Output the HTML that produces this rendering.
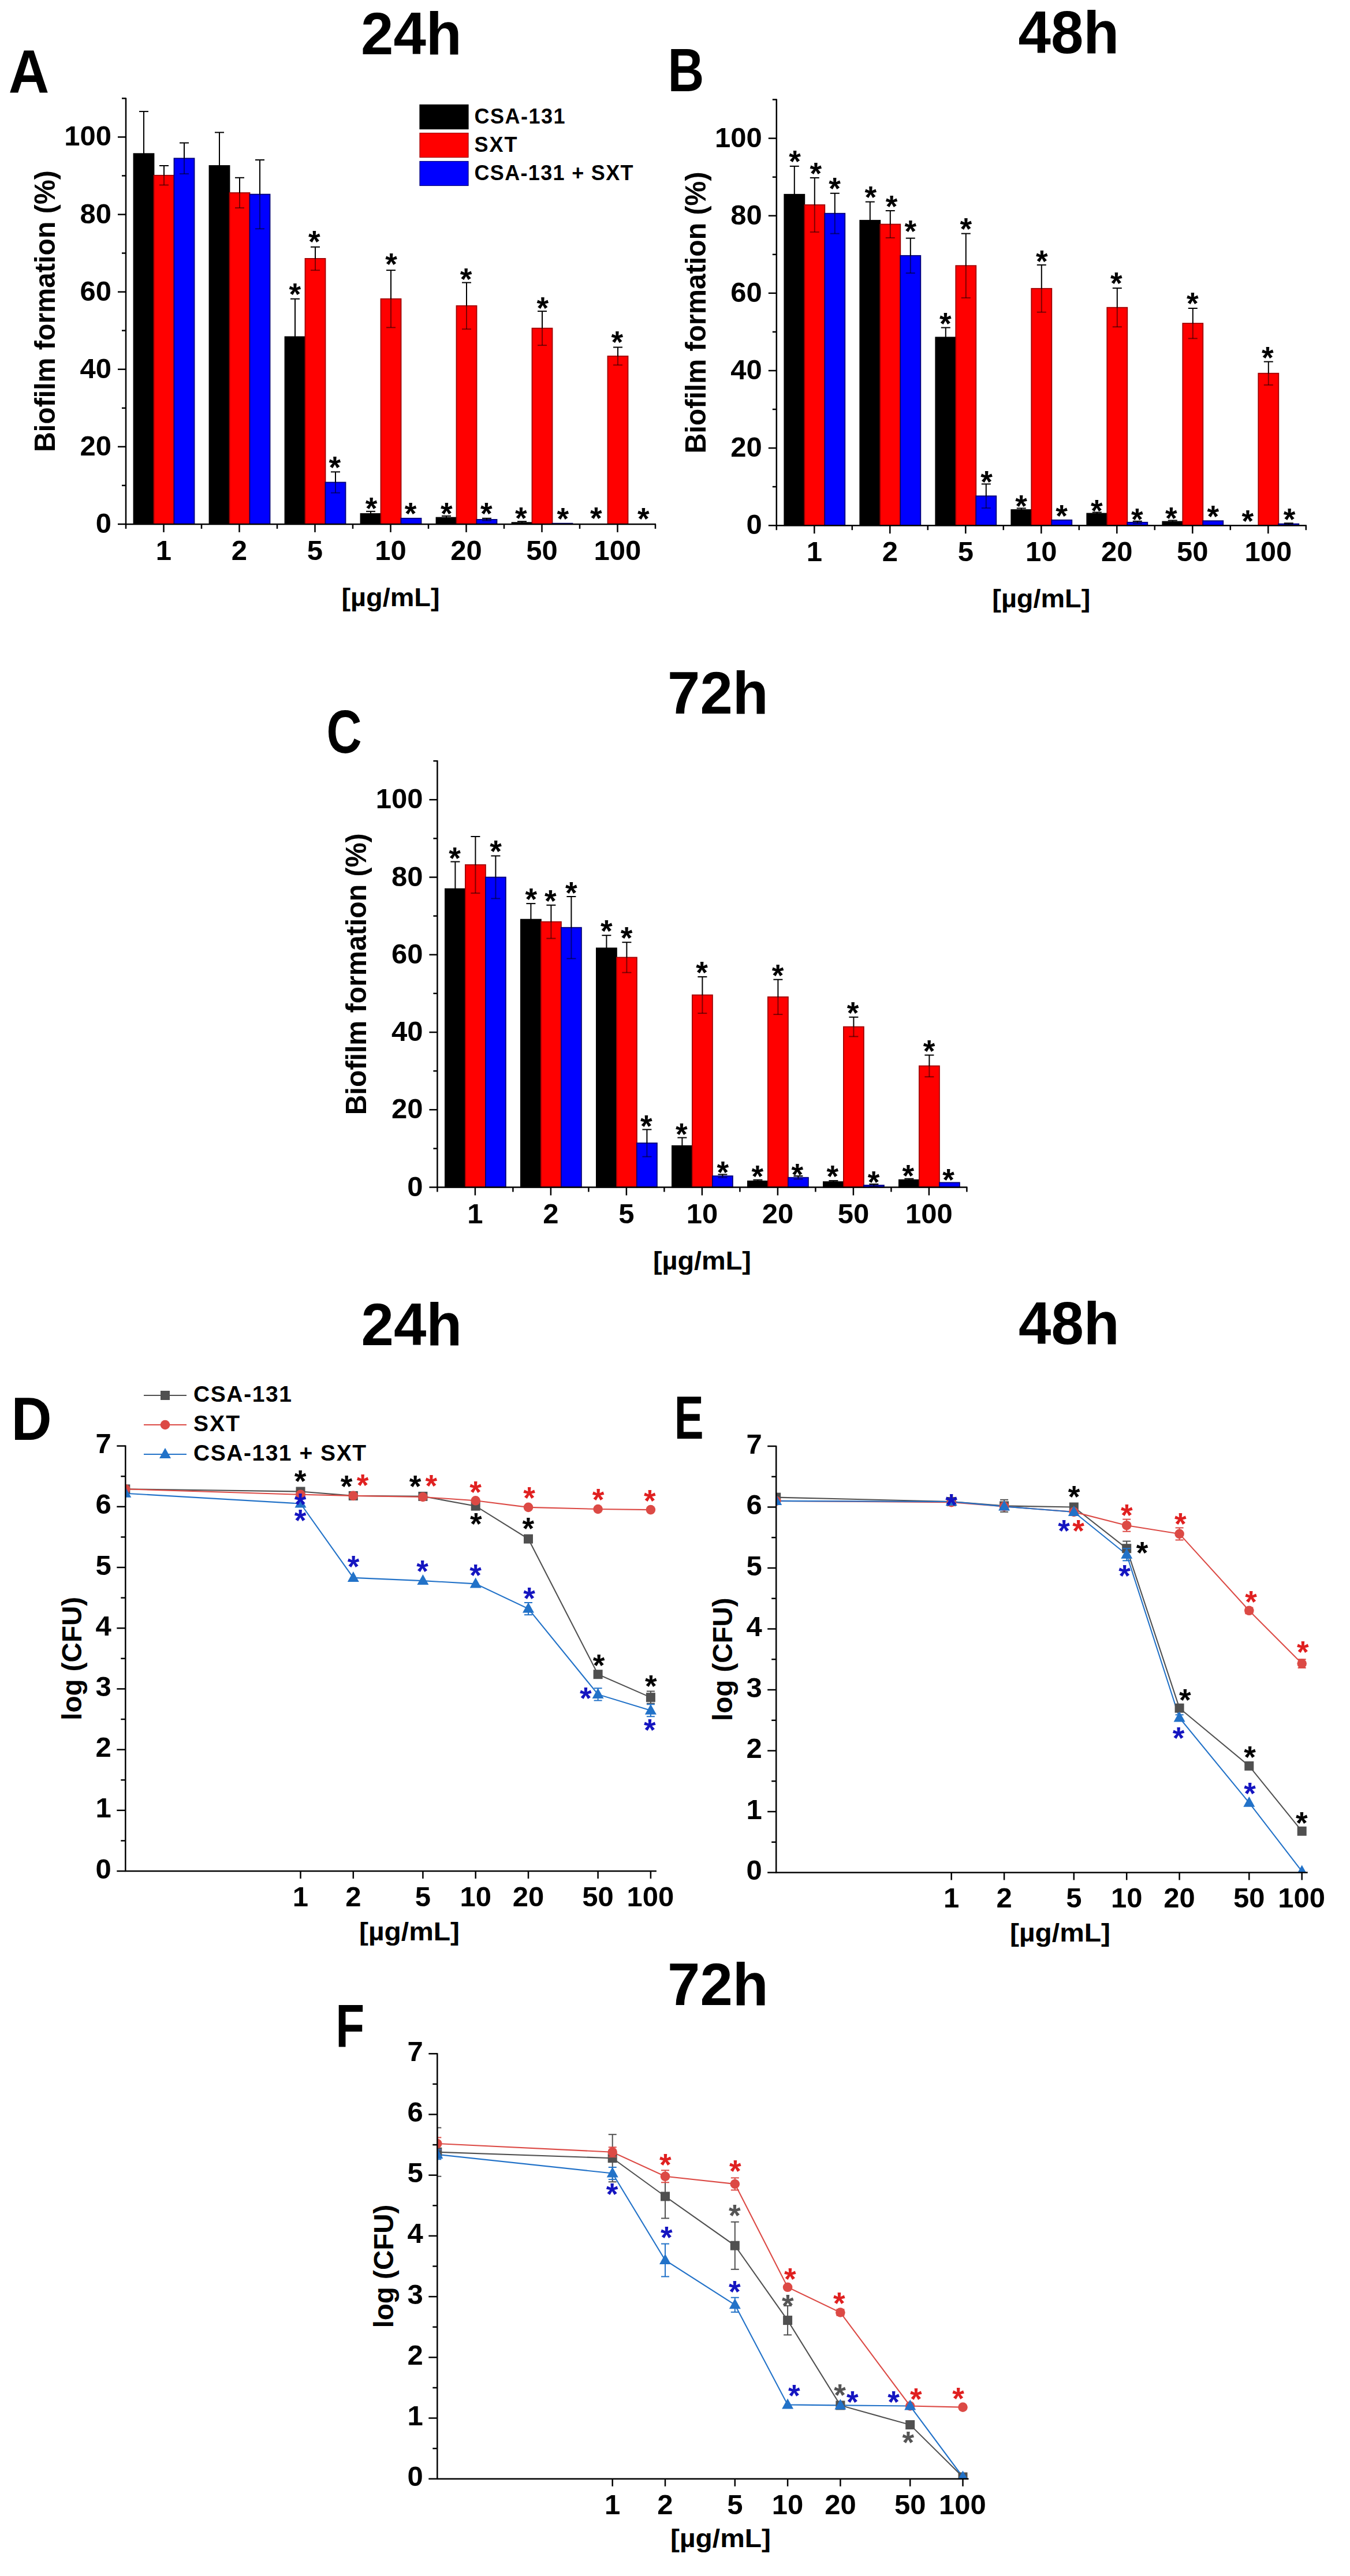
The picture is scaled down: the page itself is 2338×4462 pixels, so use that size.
<!DOCTYPE html>
<html><head><meta charset="utf-8"><title>Figure</title>
<style>html,body{margin:0;padding:0;background:#fff}svg{display:block}svg text{font-family:"Liberation Sans",Arial,sans-serif;font-weight:bold}</style>
</head><body>
<svg width="2338" height="4462" viewBox="0 0 2338 4462">
<rect width="2338" height="4462" fill="#fff"/>
<rect x="231.5" y="266.2" width="35.0" height="641.7" fill="#000000" stroke="#000000" stroke-width="1.8"/>
<line x1="249.0" y1="193.1" x2="249.0" y2="266.2" stroke="#000" stroke-width="2" />
<line x1="241.0" y1="193.1" x2="257.0" y2="193.1" stroke="#000" stroke-width="2" />
<rect x="266.5" y="303.8" width="35.0" height="604.1" fill="#ff0000" stroke="#a00000" stroke-width="1.8"/>
<line x1="284.0" y1="287.0" x2="284.0" y2="303.8" stroke="#000" stroke-width="2" />
<line x1="276.0" y1="287.0" x2="292.0" y2="287.0" stroke="#000" stroke-width="2" />
<line x1="284.0" y1="303.8" x2="284.0" y2="320.5" stroke="#000" stroke-width="2" stroke-opacity="0.5"/>
<line x1="276.0" y1="320.5" x2="292.0" y2="320.5" stroke="#000" stroke-width="2" stroke-opacity="0.5"/>
<rect x="301.5" y="274.3" width="35.0" height="633.6" fill="#0000ff" stroke="#000078" stroke-width="1.8"/>
<line x1="319.0" y1="247.5" x2="319.0" y2="274.3" stroke="#000" stroke-width="2" />
<line x1="311.0" y1="247.5" x2="327.0" y2="247.5" stroke="#000" stroke-width="2" />
<line x1="319.0" y1="274.3" x2="319.0" y2="301.1" stroke="#000" stroke-width="2" stroke-opacity="0.5"/>
<line x1="311.0" y1="301.1" x2="327.0" y2="301.1" stroke="#000" stroke-width="2" stroke-opacity="0.5"/>
<rect x="362.5" y="287.0" width="35.0" height="620.9" fill="#000000" stroke="#000000" stroke-width="1.8"/>
<line x1="380.0" y1="229.4" x2="380.0" y2="287.0" stroke="#000" stroke-width="2" />
<line x1="372.0" y1="229.4" x2="388.0" y2="229.4" stroke="#000" stroke-width="2" />
<rect x="397.5" y="334.0" width="35.0" height="573.9" fill="#ff0000" stroke="#a00000" stroke-width="1.8"/>
<line x1="415.0" y1="307.8" x2="415.0" y2="334.0" stroke="#000" stroke-width="2" />
<line x1="407.0" y1="307.8" x2="423.0" y2="307.8" stroke="#000" stroke-width="2" />
<line x1="415.0" y1="334.0" x2="415.0" y2="360.1" stroke="#000" stroke-width="2" stroke-opacity="0.5"/>
<line x1="407.0" y1="360.1" x2="423.0" y2="360.1" stroke="#000" stroke-width="2" stroke-opacity="0.5"/>
<rect x="432.5" y="336.6" width="35.0" height="571.3" fill="#0000ff" stroke="#000078" stroke-width="1.8"/>
<line x1="450.0" y1="277.0" x2="450.0" y2="336.6" stroke="#000" stroke-width="2" />
<line x1="442.0" y1="277.0" x2="458.0" y2="277.0" stroke="#000" stroke-width="2" />
<line x1="450.0" y1="336.6" x2="450.0" y2="396.3" stroke="#000" stroke-width="2" stroke-opacity="0.5"/>
<line x1="442.0" y1="396.3" x2="458.0" y2="396.3" stroke="#000" stroke-width="2" stroke-opacity="0.5"/>
<rect x="493.5" y="583.4" width="35.0" height="324.5" fill="#000000" stroke="#000000" stroke-width="1.8"/>
<line x1="511.0" y1="517.7" x2="511.0" y2="583.4" stroke="#000" stroke-width="2" />
<line x1="503.0" y1="517.7" x2="519.0" y2="517.7" stroke="#000" stroke-width="2" />
<rect x="528.5" y="447.9" width="35.0" height="460.0" fill="#ff0000" stroke="#a00000" stroke-width="1.8"/>
<line x1="546.0" y1="427.8" x2="546.0" y2="447.9" stroke="#000" stroke-width="2" />
<line x1="538.0" y1="427.8" x2="554.0" y2="427.8" stroke="#000" stroke-width="2" />
<line x1="546.0" y1="447.9" x2="546.0" y2="468.1" stroke="#000" stroke-width="2" stroke-opacity="0.5"/>
<line x1="538.0" y1="468.1" x2="554.0" y2="468.1" stroke="#000" stroke-width="2" stroke-opacity="0.5"/>
<rect x="563.5" y="835.5" width="35.0" height="72.4" fill="#0000ff" stroke="#000078" stroke-width="1.8"/>
<line x1="581.0" y1="817.4" x2="581.0" y2="835.5" stroke="#000" stroke-width="2" />
<line x1="573.0" y1="817.4" x2="589.0" y2="817.4" stroke="#000" stroke-width="2" />
<line x1="581.0" y1="835.5" x2="581.0" y2="853.6" stroke="#000" stroke-width="2" stroke-opacity="0.5"/>
<line x1="573.0" y1="853.6" x2="589.0" y2="853.6" stroke="#000" stroke-width="2" stroke-opacity="0.5"/>
<rect x="624.5" y="889.8" width="35.0" height="18.1" fill="#000000" stroke="#000000" stroke-width="1.8"/>
<line x1="642.0" y1="885.8" x2="642.0" y2="889.8" stroke="#000" stroke-width="2" />
<line x1="634.0" y1="885.8" x2="650.0" y2="885.8" stroke="#000" stroke-width="2" />
<rect x="659.5" y="517.7" width="35.0" height="390.2" fill="#ff0000" stroke="#a00000" stroke-width="1.8"/>
<line x1="677.0" y1="468.1" x2="677.0" y2="517.7" stroke="#000" stroke-width="2" />
<line x1="669.0" y1="468.1" x2="685.0" y2="468.1" stroke="#000" stroke-width="2" />
<line x1="677.0" y1="517.7" x2="677.0" y2="567.3" stroke="#000" stroke-width="2" stroke-opacity="0.5"/>
<line x1="669.0" y1="567.3" x2="685.0" y2="567.3" stroke="#000" stroke-width="2" stroke-opacity="0.5"/>
<rect x="694.5" y="897.8" width="35.0" height="10.1" fill="#0000ff" stroke="#000078" stroke-width="1.8"/>
<rect x="755.5" y="896.5" width="35.0" height="11.4" fill="#000000" stroke="#000000" stroke-width="1.8"/>
<line x1="773.0" y1="893.8" x2="773.0" y2="896.5" stroke="#000" stroke-width="2" />
<line x1="765.0" y1="893.8" x2="781.0" y2="893.8" stroke="#000" stroke-width="2" />
<rect x="790.5" y="529.7" width="35.0" height="378.2" fill="#ff0000" stroke="#a00000" stroke-width="1.8"/>
<line x1="808.0" y1="489.5" x2="808.0" y2="529.7" stroke="#000" stroke-width="2" />
<line x1="800.0" y1="489.5" x2="816.0" y2="489.5" stroke="#000" stroke-width="2" />
<line x1="808.0" y1="529.7" x2="808.0" y2="570.0" stroke="#000" stroke-width="2" stroke-opacity="0.5"/>
<line x1="800.0" y1="570.0" x2="816.0" y2="570.0" stroke="#000" stroke-width="2" stroke-opacity="0.5"/>
<rect x="825.5" y="899.9" width="35.0" height="8.0" fill="#0000ff" stroke="#000078" stroke-width="1.8"/>
<line x1="843.0" y1="897.8" x2="843.0" y2="899.9" stroke="#000" stroke-width="2" />
<line x1="835.0" y1="897.8" x2="851.0" y2="897.8" stroke="#000" stroke-width="2" />
<line x1="843.0" y1="899.9" x2="843.0" y2="901.9" stroke="#000" stroke-width="2" stroke-opacity="0.5"/>
<line x1="835.0" y1="901.9" x2="851.0" y2="901.9" stroke="#000" stroke-width="2" stroke-opacity="0.5"/>
<rect x="886.5" y="905.2" width="35.0" height="2.7" fill="#000000" stroke="#000000" stroke-width="1.8"/>
<line x1="904.0" y1="903.2" x2="904.0" y2="905.2" stroke="#000" stroke-width="2" />
<line x1="896.0" y1="903.2" x2="912.0" y2="903.2" stroke="#000" stroke-width="2" />
<rect x="921.5" y="568.6" width="35.0" height="339.3" fill="#ff0000" stroke="#a00000" stroke-width="1.8"/>
<line x1="939.0" y1="539.1" x2="939.0" y2="568.6" stroke="#000" stroke-width="2" />
<line x1="931.0" y1="539.1" x2="947.0" y2="539.1" stroke="#000" stroke-width="2" />
<line x1="939.0" y1="568.6" x2="939.0" y2="598.1" stroke="#000" stroke-width="2" stroke-opacity="0.5"/>
<line x1="931.0" y1="598.1" x2="947.0" y2="598.1" stroke="#000" stroke-width="2" stroke-opacity="0.5"/>
<rect x="956.5" y="906.6" width="35.0" height="1.3" fill="#0000ff" stroke="#000078" stroke-width="1.8"/>
<rect x="1052.5" y="616.9" width="35.0" height="291.0" fill="#ff0000" stroke="#a00000" stroke-width="1.8"/>
<line x1="1070.0" y1="601.5" x2="1070.0" y2="616.9" stroke="#000" stroke-width="2" />
<line x1="1062.0" y1="601.5" x2="1078.0" y2="601.5" stroke="#000" stroke-width="2" />
<line x1="1070.0" y1="616.9" x2="1070.0" y2="632.3" stroke="#000" stroke-width="2" stroke-opacity="0.5"/>
<line x1="1062.0" y1="632.3" x2="1078.0" y2="632.3" stroke="#000" stroke-width="2" stroke-opacity="0.5"/>
<line x1="218.0" y1="169.4" x2="218.0" y2="908.9" stroke="#000" stroke-width="2.5" />
<line x1="217.0" y1="907.9" x2="1136.0" y2="907.9" stroke="#000" stroke-width="2.5" />
<line x1="204.0" y1="907.9" x2="218.0" y2="907.9" stroke="#000" stroke-width="2.5" />
<text x="193.0" y="922.9" font-size="49" text-anchor="end" fill="#000" >0</text>
<line x1="211.0" y1="840.9" x2="218.0" y2="840.9" stroke="#000" stroke-width="2.5" />
<line x1="204.0" y1="773.8" x2="218.0" y2="773.8" stroke="#000" stroke-width="2.5" />
<text x="193.0" y="788.8" font-size="49" text-anchor="end" fill="#000" >20</text>
<line x1="211.0" y1="706.8" x2="218.0" y2="706.8" stroke="#000" stroke-width="2.5" />
<line x1="204.0" y1="639.7" x2="218.0" y2="639.7" stroke="#000" stroke-width="2.5" />
<text x="193.0" y="654.7" font-size="49" text-anchor="end" fill="#000" >40</text>
<line x1="211.0" y1="572.6" x2="218.0" y2="572.6" stroke="#000" stroke-width="2.5" />
<line x1="204.0" y1="505.6" x2="218.0" y2="505.6" stroke="#000" stroke-width="2.5" />
<text x="193.0" y="520.6" font-size="49" text-anchor="end" fill="#000" >60</text>
<line x1="211.0" y1="438.5" x2="218.0" y2="438.5" stroke="#000" stroke-width="2.5" />
<line x1="204.0" y1="371.5" x2="218.0" y2="371.5" stroke="#000" stroke-width="2.5" />
<text x="193.0" y="386.5" font-size="49" text-anchor="end" fill="#000" >80</text>
<line x1="211.0" y1="304.4" x2="218.0" y2="304.4" stroke="#000" stroke-width="2.5" />
<line x1="204.0" y1="237.4" x2="218.0" y2="237.4" stroke="#000" stroke-width="2.5" />
<text x="193.0" y="252.4" font-size="49" text-anchor="end" fill="#000" >100</text>
<line x1="211.0" y1="170.4" x2="218.0" y2="170.4" stroke="#000" stroke-width="2.5" />
<line x1="283.5" y1="907.9" x2="283.5" y2="921.9" stroke="#000" stroke-width="2.5" />
<text x="283.5" y="969.9" font-size="49" text-anchor="middle" fill="#000" >1</text>
<line x1="414.5" y1="907.9" x2="414.5" y2="921.9" stroke="#000" stroke-width="2.5" />
<text x="414.5" y="969.9" font-size="49" text-anchor="middle" fill="#000" >2</text>
<line x1="545.5" y1="907.9" x2="545.5" y2="921.9" stroke="#000" stroke-width="2.5" />
<text x="545.5" y="969.9" font-size="49" text-anchor="middle" fill="#000" >5</text>
<line x1="676.5" y1="907.9" x2="676.5" y2="921.9" stroke="#000" stroke-width="2.5" />
<text x="676.5" y="969.9" font-size="49" text-anchor="middle" fill="#000" >10</text>
<line x1="807.5" y1="907.9" x2="807.5" y2="921.9" stroke="#000" stroke-width="2.5" />
<text x="807.5" y="969.9" font-size="49" text-anchor="middle" fill="#000" >20</text>
<line x1="938.5" y1="907.9" x2="938.5" y2="921.9" stroke="#000" stroke-width="2.5" />
<text x="938.5" y="969.9" font-size="49" text-anchor="middle" fill="#000" >50</text>
<line x1="1069.5" y1="907.9" x2="1069.5" y2="921.9" stroke="#000" stroke-width="2.5" />
<text x="1069.5" y="969.9" font-size="49" text-anchor="middle" fill="#000" >100</text>
<line x1="218.0" y1="907.9" x2="218.0" y2="915.9" stroke="#000" stroke-width="2.5" />
<line x1="349.0" y1="907.9" x2="349.0" y2="915.9" stroke="#000" stroke-width="2.5" />
<line x1="480.0" y1="907.9" x2="480.0" y2="915.9" stroke="#000" stroke-width="2.5" />
<line x1="611.0" y1="907.9" x2="611.0" y2="915.9" stroke="#000" stroke-width="2.5" />
<line x1="742.0" y1="907.9" x2="742.0" y2="915.9" stroke="#000" stroke-width="2.5" />
<line x1="873.0" y1="907.9" x2="873.0" y2="915.9" stroke="#000" stroke-width="2.5" />
<line x1="1004.0" y1="907.9" x2="1004.0" y2="915.9" stroke="#000" stroke-width="2.5" />
<line x1="1135.0" y1="907.9" x2="1135.0" y2="915.9" stroke="#000" stroke-width="2.5" />
<text x="676.5" y="1049.9" font-size="44" text-anchor="middle" fill="#000" textLength="170" lengthAdjust="spacingAndGlyphs">[µg/mL]</text>
<text transform="translate(95.0,539.1) rotate(-90)" font-size="50" text-anchor="middle" textLength="488" lengthAdjust="spacingAndGlyphs">Biofilm formation (%)</text>
<text x="500.4" y="527.6" font-size="53.0" fill="#000">*</text>
<text x="534.1" y="437.1" font-size="53.0" fill="#000">*</text>
<text x="569.4" y="827.9" font-size="53.0" fill="#000">*</text>
<text x="632.7" y="898.6" font-size="53.0" fill="#000">*</text>
<text x="667.2" y="476.3" font-size="53.0" fill="#000">*</text>
<text x="700.7" y="907.6" font-size="53.0" fill="#000">*</text>
<text x="763.0" y="907.6" font-size="53.0" fill="#000">*</text>
<text x="796.7" y="502.1" font-size="53.0" fill="#000">*</text>
<text x="831.9" y="907.6" font-size="53.0" fill="#000">*</text>
<text x="891.9" y="915.6" font-size="53.0" fill="#000">*</text>
<text x="929.4" y="552.4" font-size="53.0" fill="#000">*</text>
<text x="964.4" y="917.0" font-size="53.0" fill="#000">*</text>
<text x="1022.1" y="915.6" font-size="53.0" fill="#000">*</text>
<text x="1058.5" y="611.0" font-size="53.0" fill="#000">*</text>
<text x="1103.9" y="917.0" font-size="53.0" fill="#000">*</text>
<text transform="translate(625.0,94.0) scale(0.975,1)" font-size="104">24h</text>
<text transform="translate(14.8,161.1) scale(0.93,1)" font-size="105">A</text>
<rect x="727" y="181.5" width="84" height="42" fill="#000" stroke="#000" stroke-width="1.2"/>
<text x="821.5" y="214.0" font-size="36" text-anchor="start" fill="#000" textLength="157" lengthAdjust="spacing">CSA-131</text>
<rect x="727" y="230.5" width="84" height="42" fill="#ff0000" stroke="#a00000" stroke-width="1.2"/>
<text x="821.5" y="263.0" font-size="36" text-anchor="start" fill="#000" textLength="74" lengthAdjust="spacing">SXT</text>
<rect x="727" y="279.5" width="84" height="42" fill="#0000ff" stroke="#000078" stroke-width="1.2"/>
<text x="821.5" y="312.0" font-size="36" text-anchor="start" fill="#000" textLength="275" lengthAdjust="spacing">CSA-131 + SXT</text>
<rect x="1358.3" y="336.8" width="35.0" height="573.4" fill="#000000" stroke="#000000" stroke-width="1.8"/>
<line x1="1375.8" y1="287.9" x2="1375.8" y2="336.8" stroke="#000" stroke-width="2" />
<line x1="1367.8" y1="287.9" x2="1383.8" y2="287.9" stroke="#000" stroke-width="2" />
<rect x="1393.3" y="354.9" width="35.0" height="555.3" fill="#ff0000" stroke="#a00000" stroke-width="1.8"/>
<line x1="1410.8" y1="308.0" x2="1410.8" y2="354.9" stroke="#000" stroke-width="2" />
<line x1="1402.8" y1="308.0" x2="1418.8" y2="308.0" stroke="#000" stroke-width="2" />
<line x1="1410.8" y1="354.9" x2="1410.8" y2="401.9" stroke="#000" stroke-width="2" stroke-opacity="0.5"/>
<line x1="1402.8" y1="401.9" x2="1418.8" y2="401.9" stroke="#000" stroke-width="2" stroke-opacity="0.5"/>
<rect x="1428.3" y="369.7" width="35.0" height="540.5" fill="#0000ff" stroke="#000078" stroke-width="1.8"/>
<line x1="1445.8" y1="334.8" x2="1445.8" y2="369.7" stroke="#000" stroke-width="2" />
<line x1="1437.8" y1="334.8" x2="1453.8" y2="334.8" stroke="#000" stroke-width="2" />
<line x1="1445.8" y1="369.7" x2="1445.8" y2="404.6" stroke="#000" stroke-width="2" stroke-opacity="0.5"/>
<line x1="1437.8" y1="404.6" x2="1453.8" y2="404.6" stroke="#000" stroke-width="2" stroke-opacity="0.5"/>
<rect x="1489.3" y="381.8" width="35.0" height="528.4" fill="#000000" stroke="#000000" stroke-width="1.8"/>
<line x1="1506.8" y1="349.6" x2="1506.8" y2="381.8" stroke="#000" stroke-width="2" />
<line x1="1498.8" y1="349.6" x2="1514.8" y2="349.6" stroke="#000" stroke-width="2" />
<rect x="1524.3" y="388.5" width="35.0" height="521.7" fill="#ff0000" stroke="#a00000" stroke-width="1.8"/>
<line x1="1541.8" y1="365.0" x2="1541.8" y2="388.5" stroke="#000" stroke-width="2" />
<line x1="1533.8" y1="365.0" x2="1549.8" y2="365.0" stroke="#000" stroke-width="2" />
<line x1="1541.8" y1="388.5" x2="1541.8" y2="411.9" stroke="#000" stroke-width="2" stroke-opacity="0.5"/>
<line x1="1533.8" y1="411.9" x2="1549.8" y2="411.9" stroke="#000" stroke-width="2" stroke-opacity="0.5"/>
<rect x="1559.3" y="442.8" width="35.0" height="467.4" fill="#0000ff" stroke="#000078" stroke-width="1.8"/>
<line x1="1576.8" y1="412.6" x2="1576.8" y2="442.8" stroke="#000" stroke-width="2" />
<line x1="1568.8" y1="412.6" x2="1584.8" y2="412.6" stroke="#000" stroke-width="2" />
<line x1="1576.8" y1="442.8" x2="1576.8" y2="473.0" stroke="#000" stroke-width="2" stroke-opacity="0.5"/>
<line x1="1568.8" y1="473.0" x2="1584.8" y2="473.0" stroke="#000" stroke-width="2" stroke-opacity="0.5"/>
<rect x="1620.3" y="584.3" width="35.0" height="325.9" fill="#000000" stroke="#000000" stroke-width="1.8"/>
<line x1="1637.8" y1="567.5" x2="1637.8" y2="584.3" stroke="#000" stroke-width="2" />
<line x1="1629.8" y1="567.5" x2="1645.8" y2="567.5" stroke="#000" stroke-width="2" />
<rect x="1655.3" y="460.2" width="35.0" height="450.0" fill="#ff0000" stroke="#a00000" stroke-width="1.8"/>
<line x1="1672.8" y1="404.6" x2="1672.8" y2="460.2" stroke="#000" stroke-width="2" />
<line x1="1664.8" y1="404.6" x2="1680.8" y2="404.6" stroke="#000" stroke-width="2" />
<line x1="1672.8" y1="460.2" x2="1672.8" y2="515.9" stroke="#000" stroke-width="2" stroke-opacity="0.5"/>
<line x1="1664.8" y1="515.9" x2="1680.8" y2="515.9" stroke="#000" stroke-width="2" stroke-opacity="0.5"/>
<rect x="1690.3" y="859.2" width="35.0" height="51.0" fill="#0000ff" stroke="#000078" stroke-width="1.8"/>
<line x1="1707.8" y1="838.4" x2="1707.8" y2="859.2" stroke="#000" stroke-width="2" />
<line x1="1699.8" y1="838.4" x2="1715.8" y2="838.4" stroke="#000" stroke-width="2" />
<line x1="1707.8" y1="859.2" x2="1707.8" y2="880.0" stroke="#000" stroke-width="2" stroke-opacity="0.5"/>
<line x1="1699.8" y1="880.0" x2="1715.8" y2="880.0" stroke="#000" stroke-width="2" stroke-opacity="0.5"/>
<rect x="1751.3" y="883.0" width="35.0" height="27.2" fill="#000000" stroke="#000000" stroke-width="1.8"/>
<line x1="1768.8" y1="880.4" x2="1768.8" y2="883.0" stroke="#000" stroke-width="2" />
<line x1="1760.8" y1="880.4" x2="1776.8" y2="880.4" stroke="#000" stroke-width="2" />
<rect x="1786.3" y="499.8" width="35.0" height="410.4" fill="#ff0000" stroke="#a00000" stroke-width="1.8"/>
<line x1="1803.8" y1="458.9" x2="1803.8" y2="499.8" stroke="#000" stroke-width="2" />
<line x1="1795.8" y1="458.9" x2="1811.8" y2="458.9" stroke="#000" stroke-width="2" />
<line x1="1803.8" y1="499.8" x2="1803.8" y2="540.7" stroke="#000" stroke-width="2" stroke-opacity="0.5"/>
<line x1="1795.8" y1="540.7" x2="1811.8" y2="540.7" stroke="#000" stroke-width="2" stroke-opacity="0.5"/>
<rect x="1821.3" y="900.8" width="35.0" height="9.4" fill="#0000ff" stroke="#000078" stroke-width="1.8"/>
<rect x="1882.3" y="889.4" width="35.0" height="20.8" fill="#000000" stroke="#000000" stroke-width="1.8"/>
<line x1="1899.8" y1="887.4" x2="1899.8" y2="889.4" stroke="#000" stroke-width="2" />
<line x1="1891.8" y1="887.4" x2="1907.8" y2="887.4" stroke="#000" stroke-width="2" />
<rect x="1917.3" y="532.7" width="35.0" height="377.5" fill="#ff0000" stroke="#a00000" stroke-width="1.8"/>
<line x1="1934.8" y1="499.1" x2="1934.8" y2="532.7" stroke="#000" stroke-width="2" />
<line x1="1926.8" y1="499.1" x2="1942.8" y2="499.1" stroke="#000" stroke-width="2" />
<line x1="1934.8" y1="532.7" x2="1934.8" y2="566.2" stroke="#000" stroke-width="2" stroke-opacity="0.5"/>
<line x1="1926.8" y1="566.2" x2="1942.8" y2="566.2" stroke="#000" stroke-width="2" stroke-opacity="0.5"/>
<rect x="1952.3" y="904.8" width="35.0" height="5.4" fill="#0000ff" stroke="#000078" stroke-width="1.8"/>
<line x1="1969.8" y1="902.8" x2="1969.8" y2="904.8" stroke="#000" stroke-width="2" />
<line x1="1961.8" y1="902.8" x2="1977.8" y2="902.8" stroke="#000" stroke-width="2" />
<line x1="1969.8" y1="904.8" x2="1969.8" y2="906.8" stroke="#000" stroke-width="2" stroke-opacity="0.5"/>
<line x1="1961.8" y1="906.8" x2="1977.8" y2="906.8" stroke="#000" stroke-width="2" stroke-opacity="0.5"/>
<rect x="2013.3" y="903.5" width="35.0" height="6.7" fill="#000000" stroke="#000000" stroke-width="1.8"/>
<line x1="2030.8" y1="901.5" x2="2030.8" y2="903.5" stroke="#000" stroke-width="2" />
<line x1="2022.8" y1="901.5" x2="2038.8" y2="901.5" stroke="#000" stroke-width="2" />
<rect x="2048.3" y="560.1" width="35.0" height="350.1" fill="#ff0000" stroke="#a00000" stroke-width="1.8"/>
<line x1="2065.8" y1="534.0" x2="2065.8" y2="560.1" stroke="#000" stroke-width="2" />
<line x1="2057.8" y1="534.0" x2="2073.8" y2="534.0" stroke="#000" stroke-width="2" />
<line x1="2065.8" y1="560.1" x2="2065.8" y2="586.3" stroke="#000" stroke-width="2" stroke-opacity="0.5"/>
<line x1="2057.8" y1="586.3" x2="2073.8" y2="586.3" stroke="#000" stroke-width="2" stroke-opacity="0.5"/>
<rect x="2083.3" y="902.2" width="35.0" height="8.0" fill="#0000ff" stroke="#000078" stroke-width="1.8"/>
<rect x="2179.3" y="646.7" width="35.0" height="263.5" fill="#ff0000" stroke="#a00000" stroke-width="1.8"/>
<line x1="2196.8" y1="626.5" x2="2196.8" y2="646.7" stroke="#000" stroke-width="2" />
<line x1="2188.8" y1="626.5" x2="2204.8" y2="626.5" stroke="#000" stroke-width="2" />
<line x1="2196.8" y1="646.7" x2="2196.8" y2="666.8" stroke="#000" stroke-width="2" stroke-opacity="0.5"/>
<line x1="2188.8" y1="666.8" x2="2204.8" y2="666.8" stroke="#000" stroke-width="2" stroke-opacity="0.5"/>
<rect x="2214.3" y="907.5" width="35.0" height="2.7" fill="#0000ff" stroke="#000078" stroke-width="1.8"/>
<line x1="2231.8" y1="906.2" x2="2231.8" y2="907.5" stroke="#000" stroke-width="2" />
<line x1="2223.8" y1="906.2" x2="2239.8" y2="906.2" stroke="#000" stroke-width="2" />
<line x1="2231.8" y1="907.5" x2="2231.8" y2="908.9" stroke="#000" stroke-width="2" stroke-opacity="0.5"/>
<line x1="2223.8" y1="908.9" x2="2239.8" y2="908.9" stroke="#000" stroke-width="2" stroke-opacity="0.5"/>
<line x1="1344.8" y1="171.5" x2="1344.8" y2="911.2" stroke="#000" stroke-width="2.5" />
<line x1="1343.8" y1="910.2" x2="2262.8" y2="910.2" stroke="#000" stroke-width="2.5" />
<line x1="1330.8" y1="910.2" x2="1344.8" y2="910.2" stroke="#000" stroke-width="2.5" />
<text x="1319.8" y="925.2" font-size="49" text-anchor="end" fill="#000" >0</text>
<line x1="1337.8" y1="843.1" x2="1344.8" y2="843.1" stroke="#000" stroke-width="2.5" />
<line x1="1330.8" y1="776.1" x2="1344.8" y2="776.1" stroke="#000" stroke-width="2.5" />
<text x="1319.8" y="791.1" font-size="49" text-anchor="end" fill="#000" >20</text>
<line x1="1337.8" y1="709.0" x2="1344.8" y2="709.0" stroke="#000" stroke-width="2.5" />
<line x1="1330.8" y1="642.0" x2="1344.8" y2="642.0" stroke="#000" stroke-width="2.5" />
<text x="1319.8" y="657.0" font-size="49" text-anchor="end" fill="#000" >40</text>
<line x1="1337.8" y1="574.9" x2="1344.8" y2="574.9" stroke="#000" stroke-width="2.5" />
<line x1="1330.8" y1="507.8" x2="1344.8" y2="507.8" stroke="#000" stroke-width="2.5" />
<text x="1319.8" y="522.8" font-size="49" text-anchor="end" fill="#000" >60</text>
<line x1="1337.8" y1="440.8" x2="1344.8" y2="440.8" stroke="#000" stroke-width="2.5" />
<line x1="1330.8" y1="373.7" x2="1344.8" y2="373.7" stroke="#000" stroke-width="2.5" />
<text x="1319.8" y="388.7" font-size="49" text-anchor="end" fill="#000" >80</text>
<line x1="1337.8" y1="306.7" x2="1344.8" y2="306.7" stroke="#000" stroke-width="2.5" />
<line x1="1330.8" y1="239.6" x2="1344.8" y2="239.6" stroke="#000" stroke-width="2.5" />
<text x="1319.8" y="254.6" font-size="49" text-anchor="end" fill="#000" >100</text>
<line x1="1337.8" y1="172.5" x2="1344.8" y2="172.5" stroke="#000" stroke-width="2.5" />
<line x1="1410.3" y1="910.2" x2="1410.3" y2="924.2" stroke="#000" stroke-width="2.5" />
<text x="1410.3" y="972.2" font-size="49" text-anchor="middle" fill="#000" >1</text>
<line x1="1541.3" y1="910.2" x2="1541.3" y2="924.2" stroke="#000" stroke-width="2.5" />
<text x="1541.3" y="972.2" font-size="49" text-anchor="middle" fill="#000" >2</text>
<line x1="1672.3" y1="910.2" x2="1672.3" y2="924.2" stroke="#000" stroke-width="2.5" />
<text x="1672.3" y="972.2" font-size="49" text-anchor="middle" fill="#000" >5</text>
<line x1="1803.3" y1="910.2" x2="1803.3" y2="924.2" stroke="#000" stroke-width="2.5" />
<text x="1803.3" y="972.2" font-size="49" text-anchor="middle" fill="#000" >10</text>
<line x1="1934.3" y1="910.2" x2="1934.3" y2="924.2" stroke="#000" stroke-width="2.5" />
<text x="1934.3" y="972.2" font-size="49" text-anchor="middle" fill="#000" >20</text>
<line x1="2065.3" y1="910.2" x2="2065.3" y2="924.2" stroke="#000" stroke-width="2.5" />
<text x="2065.3" y="972.2" font-size="49" text-anchor="middle" fill="#000" >50</text>
<line x1="2196.3" y1="910.2" x2="2196.3" y2="924.2" stroke="#000" stroke-width="2.5" />
<text x="2196.3" y="972.2" font-size="49" text-anchor="middle" fill="#000" >100</text>
<line x1="1344.8" y1="910.2" x2="1344.8" y2="918.2" stroke="#000" stroke-width="2.5" />
<line x1="1475.8" y1="910.2" x2="1475.8" y2="918.2" stroke="#000" stroke-width="2.5" />
<line x1="1606.8" y1="910.2" x2="1606.8" y2="918.2" stroke="#000" stroke-width="2.5" />
<line x1="1737.8" y1="910.2" x2="1737.8" y2="918.2" stroke="#000" stroke-width="2.5" />
<line x1="1868.8" y1="910.2" x2="1868.8" y2="918.2" stroke="#000" stroke-width="2.5" />
<line x1="1999.8" y1="910.2" x2="1999.8" y2="918.2" stroke="#000" stroke-width="2.5" />
<line x1="2130.8" y1="910.2" x2="2130.8" y2="918.2" stroke="#000" stroke-width="2.5" />
<line x1="2261.8" y1="910.2" x2="2261.8" y2="918.2" stroke="#000" stroke-width="2.5" />
<text x="1803.3" y="1052.2" font-size="44" text-anchor="middle" fill="#000" textLength="170" lengthAdjust="spacingAndGlyphs">[µg/mL]</text>
<text transform="translate(1221.8,541.4) rotate(-90)" font-size="50" text-anchor="middle" textLength="488" lengthAdjust="spacingAndGlyphs">Biofilm formation (%)</text>
<text x="1366.3" y="297.9" font-size="53.0" fill="#000">*</text>
<text x="1402.6" y="319.1" font-size="53.0" fill="#000">*</text>
<text x="1435.3" y="344.6" font-size="53.0" fill="#000">*</text>
<text x="1497.5" y="360.1" font-size="53.0" fill="#000">*</text>
<text x="1533.7" y="376.1" font-size="53.0" fill="#000">*</text>
<text x="1566.4" y="418.6" font-size="53.0" fill="#000">*</text>
<text x="1627.1" y="579.4" font-size="53.0" fill="#000">*</text>
<text x="1662.4" y="414.6" font-size="53.0" fill="#000">*</text>
<text x="1698.3" y="853.1" font-size="53.0" fill="#000">*</text>
<text x="1758.2" y="894.6" font-size="53.0" fill="#000">*</text>
<text x="1794.1" y="470.6" font-size="53.0" fill="#000">*</text>
<text x="1828.2" y="912.1" font-size="53.0" fill="#000">*</text>
<text x="1889.1" y="902.6" font-size="53.0" fill="#000">*</text>
<text x="1922.9" y="508.6" font-size="53.0" fill="#000">*</text>
<text x="1959.1" y="917.8" font-size="53.0" fill="#000">*</text>
<text x="2018.1" y="915.9" font-size="53.0" fill="#000">*</text>
<text x="2055.0" y="544.4" font-size="53.0" fill="#000">*</text>
<text x="2090.5" y="913.1" font-size="53.0" fill="#000">*</text>
<text x="2150.5" y="920.6" font-size="53.0" fill="#000">*</text>
<text x="2185.0" y="638.0" font-size="53.0" fill="#000">*</text>
<text x="2222.7" y="918.3" font-size="53.0" fill="#000">*</text>
<text transform="translate(1763.6,92.0) scale(0.975,1)" font-size="104">48h</text>
<text transform="translate(1156.5,157.8) scale(0.828,1)" font-size="105">B</text>
<rect x="770.9" y="1539.6" width="35.0" height="516.9" fill="#000000" stroke="#000000" stroke-width="1.8"/>
<line x1="788.4" y1="1492.6" x2="788.4" y2="1539.6" stroke="#000" stroke-width="2" />
<line x1="780.4" y1="1492.6" x2="796.4" y2="1492.6" stroke="#000" stroke-width="2" />
<rect x="805.9" y="1498.0" width="35.0" height="558.5" fill="#ff0000" stroke="#a00000" stroke-width="1.8"/>
<line x1="823.4" y1="1449.0" x2="823.4" y2="1498.0" stroke="#000" stroke-width="2" />
<line x1="815.4" y1="1449.0" x2="831.4" y2="1449.0" stroke="#000" stroke-width="2" />
<line x1="823.4" y1="1498.0" x2="823.4" y2="1547.0" stroke="#000" stroke-width="2" stroke-opacity="0.5"/>
<line x1="815.4" y1="1547.0" x2="831.4" y2="1547.0" stroke="#000" stroke-width="2" stroke-opacity="0.5"/>
<rect x="840.9" y="1519.5" width="35.0" height="537.0" fill="#0000ff" stroke="#000078" stroke-width="1.8"/>
<line x1="858.4" y1="1482.5" x2="858.4" y2="1519.5" stroke="#000" stroke-width="2" />
<line x1="850.4" y1="1482.5" x2="866.4" y2="1482.5" stroke="#000" stroke-width="2" />
<line x1="858.4" y1="1519.5" x2="858.4" y2="1556.4" stroke="#000" stroke-width="2" stroke-opacity="0.5"/>
<line x1="850.4" y1="1556.4" x2="866.4" y2="1556.4" stroke="#000" stroke-width="2" stroke-opacity="0.5"/>
<rect x="901.9" y="1592.6" width="35.0" height="463.9" fill="#000000" stroke="#000000" stroke-width="1.8"/>
<line x1="919.4" y1="1565.1" x2="919.4" y2="1592.6" stroke="#000" stroke-width="2" />
<line x1="911.4" y1="1565.1" x2="927.4" y2="1565.1" stroke="#000" stroke-width="2" />
<rect x="936.9" y="1596.7" width="35.0" height="459.8" fill="#ff0000" stroke="#a00000" stroke-width="1.8"/>
<line x1="954.4" y1="1567.8" x2="954.4" y2="1596.7" stroke="#000" stroke-width="2" />
<line x1="946.4" y1="1567.8" x2="962.4" y2="1567.8" stroke="#000" stroke-width="2" />
<line x1="954.4" y1="1596.7" x2="954.4" y2="1625.5" stroke="#000" stroke-width="2" stroke-opacity="0.5"/>
<line x1="946.4" y1="1625.5" x2="962.4" y2="1625.5" stroke="#000" stroke-width="2" stroke-opacity="0.5"/>
<rect x="971.9" y="1606.7" width="35.0" height="449.8" fill="#0000ff" stroke="#000078" stroke-width="1.8"/>
<line x1="989.4" y1="1553.0" x2="989.4" y2="1606.7" stroke="#000" stroke-width="2" />
<line x1="981.4" y1="1553.0" x2="997.4" y2="1553.0" stroke="#000" stroke-width="2" />
<line x1="989.4" y1="1606.7" x2="989.4" y2="1660.4" stroke="#000" stroke-width="2" stroke-opacity="0.5"/>
<line x1="981.4" y1="1660.4" x2="997.4" y2="1660.4" stroke="#000" stroke-width="2" stroke-opacity="0.5"/>
<rect x="1032.9" y="1642.3" width="35.0" height="414.2" fill="#000000" stroke="#000000" stroke-width="1.8"/>
<line x1="1050.4" y1="1620.2" x2="1050.4" y2="1642.3" stroke="#000" stroke-width="2" />
<line x1="1042.4" y1="1620.2" x2="1058.4" y2="1620.2" stroke="#000" stroke-width="2" />
<rect x="1067.9" y="1658.4" width="35.0" height="398.1" fill="#ff0000" stroke="#a00000" stroke-width="1.8"/>
<line x1="1085.4" y1="1632.2" x2="1085.4" y2="1658.4" stroke="#000" stroke-width="2" />
<line x1="1077.4" y1="1632.2" x2="1093.4" y2="1632.2" stroke="#000" stroke-width="2" />
<line x1="1085.4" y1="1658.4" x2="1085.4" y2="1684.6" stroke="#000" stroke-width="2" stroke-opacity="0.5"/>
<line x1="1077.4" y1="1684.6" x2="1093.4" y2="1684.6" stroke="#000" stroke-width="2" stroke-opacity="0.5"/>
<rect x="1102.9" y="1980.0" width="35.0" height="76.5" fill="#0000ff" stroke="#000078" stroke-width="1.8"/>
<line x1="1120.4" y1="1956.5" x2="1120.4" y2="1980.0" stroke="#000" stroke-width="2" />
<line x1="1112.4" y1="1956.5" x2="1128.4" y2="1956.5" stroke="#000" stroke-width="2" />
<line x1="1120.4" y1="1980.0" x2="1120.4" y2="2003.5" stroke="#000" stroke-width="2" stroke-opacity="0.5"/>
<line x1="1112.4" y1="2003.5" x2="1128.4" y2="2003.5" stroke="#000" stroke-width="2" stroke-opacity="0.5"/>
<rect x="1163.9" y="1984.7" width="35.0" height="71.8" fill="#000000" stroke="#000000" stroke-width="1.8"/>
<line x1="1181.4" y1="1970.6" x2="1181.4" y2="1984.7" stroke="#000" stroke-width="2" />
<line x1="1173.4" y1="1970.6" x2="1189.4" y2="1970.6" stroke="#000" stroke-width="2" />
<rect x="1198.9" y="1723.5" width="35.0" height="333.0" fill="#ff0000" stroke="#a00000" stroke-width="1.8"/>
<line x1="1216.4" y1="1692.0" x2="1216.4" y2="1723.5" stroke="#000" stroke-width="2" />
<line x1="1208.4" y1="1692.0" x2="1224.4" y2="1692.0" stroke="#000" stroke-width="2" />
<line x1="1216.4" y1="1723.5" x2="1216.4" y2="1755.1" stroke="#000" stroke-width="2" stroke-opacity="0.5"/>
<line x1="1208.4" y1="1755.1" x2="1224.4" y2="1755.1" stroke="#000" stroke-width="2" stroke-opacity="0.5"/>
<rect x="1233.9" y="2037.0" width="35.0" height="19.5" fill="#0000ff" stroke="#000078" stroke-width="1.8"/>
<line x1="1251.4" y1="2034.3" x2="1251.4" y2="2037.0" stroke="#000" stroke-width="2" />
<line x1="1243.4" y1="2034.3" x2="1259.4" y2="2034.3" stroke="#000" stroke-width="2" />
<line x1="1251.4" y1="2037.0" x2="1251.4" y2="2039.7" stroke="#000" stroke-width="2" stroke-opacity="0.5"/>
<line x1="1243.4" y1="2039.7" x2="1259.4" y2="2039.7" stroke="#000" stroke-width="2" stroke-opacity="0.5"/>
<rect x="1294.9" y="2045.8" width="35.0" height="10.7" fill="#000000" stroke="#000000" stroke-width="1.8"/>
<line x1="1312.4" y1="2043.7" x2="1312.4" y2="2045.8" stroke="#000" stroke-width="2" />
<line x1="1304.4" y1="2043.7" x2="1320.4" y2="2043.7" stroke="#000" stroke-width="2" />
<rect x="1329.9" y="1726.9" width="35.0" height="329.6" fill="#ff0000" stroke="#a00000" stroke-width="1.8"/>
<line x1="1347.4" y1="1696.7" x2="1347.4" y2="1726.9" stroke="#000" stroke-width="2" />
<line x1="1339.4" y1="1696.7" x2="1355.4" y2="1696.7" stroke="#000" stroke-width="2" />
<line x1="1347.4" y1="1726.9" x2="1347.4" y2="1757.1" stroke="#000" stroke-width="2" stroke-opacity="0.5"/>
<line x1="1339.4" y1="1757.1" x2="1355.4" y2="1757.1" stroke="#000" stroke-width="2" stroke-opacity="0.5"/>
<rect x="1364.9" y="2039.7" width="35.0" height="16.8" fill="#0000ff" stroke="#000078" stroke-width="1.8"/>
<line x1="1382.4" y1="2037.0" x2="1382.4" y2="2039.7" stroke="#000" stroke-width="2" />
<line x1="1374.4" y1="2037.0" x2="1390.4" y2="2037.0" stroke="#000" stroke-width="2" />
<line x1="1382.4" y1="2039.7" x2="1382.4" y2="2042.4" stroke="#000" stroke-width="2" stroke-opacity="0.5"/>
<line x1="1374.4" y1="2042.4" x2="1390.4" y2="2042.4" stroke="#000" stroke-width="2" stroke-opacity="0.5"/>
<rect x="1425.9" y="2047.1" width="35.0" height="9.4" fill="#000000" stroke="#000000" stroke-width="1.8"/>
<line x1="1443.4" y1="2045.1" x2="1443.4" y2="2047.1" stroke="#000" stroke-width="2" />
<line x1="1435.4" y1="2045.1" x2="1451.4" y2="2045.1" stroke="#000" stroke-width="2" />
<rect x="1460.9" y="1778.6" width="35.0" height="277.9" fill="#ff0000" stroke="#a00000" stroke-width="1.8"/>
<line x1="1478.4" y1="1761.8" x2="1478.4" y2="1778.6" stroke="#000" stroke-width="2" />
<line x1="1470.4" y1="1761.8" x2="1486.4" y2="1761.8" stroke="#000" stroke-width="2" />
<line x1="1478.4" y1="1778.6" x2="1478.4" y2="1795.4" stroke="#000" stroke-width="2" stroke-opacity="0.5"/>
<line x1="1470.4" y1="1795.4" x2="1486.4" y2="1795.4" stroke="#000" stroke-width="2" stroke-opacity="0.5"/>
<rect x="1495.9" y="2053.1" width="35.0" height="3.4" fill="#0000ff" stroke="#000078" stroke-width="1.8"/>
<line x1="1513.4" y1="2051.1" x2="1513.4" y2="2053.1" stroke="#000" stroke-width="2" />
<line x1="1505.4" y1="2051.1" x2="1521.4" y2="2051.1" stroke="#000" stroke-width="2" />
<line x1="1513.4" y1="2053.1" x2="1513.4" y2="2055.2" stroke="#000" stroke-width="2" stroke-opacity="0.5"/>
<line x1="1505.4" y1="2055.2" x2="1521.4" y2="2055.2" stroke="#000" stroke-width="2" stroke-opacity="0.5"/>
<rect x="1556.9" y="2043.7" width="35.0" height="12.8" fill="#000000" stroke="#000000" stroke-width="1.8"/>
<line x1="1574.4" y1="2041.7" x2="1574.4" y2="2043.7" stroke="#000" stroke-width="2" />
<line x1="1566.4" y1="2041.7" x2="1582.4" y2="2041.7" stroke="#000" stroke-width="2" />
<rect x="1591.9" y="1846.4" width="35.0" height="210.1" fill="#ff0000" stroke="#a00000" stroke-width="1.8"/>
<line x1="1609.4" y1="1827.6" x2="1609.4" y2="1846.4" stroke="#000" stroke-width="2" />
<line x1="1601.4" y1="1827.6" x2="1617.4" y2="1827.6" stroke="#000" stroke-width="2" />
<line x1="1609.4" y1="1846.4" x2="1609.4" y2="1865.2" stroke="#000" stroke-width="2" stroke-opacity="0.5"/>
<line x1="1601.4" y1="1865.2" x2="1617.4" y2="1865.2" stroke="#000" stroke-width="2" stroke-opacity="0.5"/>
<rect x="1626.9" y="2048.4" width="35.0" height="8.1" fill="#0000ff" stroke="#000078" stroke-width="1.8"/>
<line x1="757.4" y1="1317.1" x2="757.4" y2="2057.5" stroke="#000" stroke-width="2.5" />
<line x1="756.4" y1="2056.5" x2="1675.4" y2="2056.5" stroke="#000" stroke-width="2.5" />
<line x1="743.4" y1="2056.5" x2="757.4" y2="2056.5" stroke="#000" stroke-width="2.5" />
<text x="732.4" y="2071.5" font-size="49" text-anchor="end" fill="#000" >0</text>
<line x1="750.4" y1="1989.4" x2="757.4" y2="1989.4" stroke="#000" stroke-width="2.5" />
<line x1="743.4" y1="1922.2" x2="757.4" y2="1922.2" stroke="#000" stroke-width="2.5" />
<text x="732.4" y="1937.2" font-size="49" text-anchor="end" fill="#000" >20</text>
<line x1="750.4" y1="1855.1" x2="757.4" y2="1855.1" stroke="#000" stroke-width="2.5" />
<line x1="743.4" y1="1788.0" x2="757.4" y2="1788.0" stroke="#000" stroke-width="2.5" />
<text x="732.4" y="1803.0" font-size="49" text-anchor="end" fill="#000" >40</text>
<line x1="750.4" y1="1720.8" x2="757.4" y2="1720.8" stroke="#000" stroke-width="2.5" />
<line x1="743.4" y1="1653.7" x2="757.4" y2="1653.7" stroke="#000" stroke-width="2.5" />
<text x="732.4" y="1668.7" font-size="49" text-anchor="end" fill="#000" >60</text>
<line x1="750.4" y1="1586.6" x2="757.4" y2="1586.6" stroke="#000" stroke-width="2.5" />
<line x1="743.4" y1="1519.5" x2="757.4" y2="1519.5" stroke="#000" stroke-width="2.5" />
<text x="732.4" y="1534.5" font-size="49" text-anchor="end" fill="#000" >80</text>
<line x1="750.4" y1="1452.3" x2="757.4" y2="1452.3" stroke="#000" stroke-width="2.5" />
<line x1="743.4" y1="1385.2" x2="757.4" y2="1385.2" stroke="#000" stroke-width="2.5" />
<text x="732.4" y="1400.2" font-size="49" text-anchor="end" fill="#000" >100</text>
<line x1="750.4" y1="1318.1" x2="757.4" y2="1318.1" stroke="#000" stroke-width="2.5" />
<line x1="822.9" y1="2056.5" x2="822.9" y2="2070.5" stroke="#000" stroke-width="2.5" />
<text x="822.9" y="2118.5" font-size="49" text-anchor="middle" fill="#000" >1</text>
<line x1="953.9" y1="2056.5" x2="953.9" y2="2070.5" stroke="#000" stroke-width="2.5" />
<text x="953.9" y="2118.5" font-size="49" text-anchor="middle" fill="#000" >2</text>
<line x1="1084.9" y1="2056.5" x2="1084.9" y2="2070.5" stroke="#000" stroke-width="2.5" />
<text x="1084.9" y="2118.5" font-size="49" text-anchor="middle" fill="#000" >5</text>
<line x1="1215.9" y1="2056.5" x2="1215.9" y2="2070.5" stroke="#000" stroke-width="2.5" />
<text x="1215.9" y="2118.5" font-size="49" text-anchor="middle" fill="#000" >10</text>
<line x1="1346.9" y1="2056.5" x2="1346.9" y2="2070.5" stroke="#000" stroke-width="2.5" />
<text x="1346.9" y="2118.5" font-size="49" text-anchor="middle" fill="#000" >20</text>
<line x1="1477.9" y1="2056.5" x2="1477.9" y2="2070.5" stroke="#000" stroke-width="2.5" />
<text x="1477.9" y="2118.5" font-size="49" text-anchor="middle" fill="#000" >50</text>
<line x1="1608.9" y1="2056.5" x2="1608.9" y2="2070.5" stroke="#000" stroke-width="2.5" />
<text x="1608.9" y="2118.5" font-size="49" text-anchor="middle" fill="#000" >100</text>
<line x1="757.4" y1="2056.5" x2="757.4" y2="2064.5" stroke="#000" stroke-width="2.5" />
<line x1="888.4" y1="2056.5" x2="888.4" y2="2064.5" stroke="#000" stroke-width="2.5" />
<line x1="1019.4" y1="2056.5" x2="1019.4" y2="2064.5" stroke="#000" stroke-width="2.5" />
<line x1="1150.4" y1="2056.5" x2="1150.4" y2="2064.5" stroke="#000" stroke-width="2.5" />
<line x1="1281.4" y1="2056.5" x2="1281.4" y2="2064.5" stroke="#000" stroke-width="2.5" />
<line x1="1412.4" y1="2056.5" x2="1412.4" y2="2064.5" stroke="#000" stroke-width="2.5" />
<line x1="1543.4" y1="2056.5" x2="1543.4" y2="2064.5" stroke="#000" stroke-width="2.5" />
<line x1="1674.4" y1="2056.5" x2="1674.4" y2="2064.5" stroke="#000" stroke-width="2.5" />
<text x="1215.9" y="2198.5" font-size="44" text-anchor="middle" fill="#000" textLength="170" lengthAdjust="spacingAndGlyphs">[µg/mL]</text>
<text transform="translate(634.4,1687.3) rotate(-90)" font-size="50" text-anchor="middle" textLength="488" lengthAdjust="spacingAndGlyphs">Biofilm formation (%)</text>
<text x="777.2" y="1504.6" font-size="53.0" fill="#000">*</text>
<text x="848.2" y="1492.6" font-size="53.0" fill="#000">*</text>
<text x="909.4" y="1575.6" font-size="53.0" fill="#000">*</text>
<text x="943.1" y="1579.3" font-size="53.0" fill="#000">*</text>
<text x="978.9" y="1565.3" font-size="53.0" fill="#000">*</text>
<text x="1040.1" y="1631.2" font-size="53.0" fill="#000">*</text>
<text x="1074.7" y="1643.1" font-size="53.0" fill="#000">*</text>
<text x="1109.0" y="1969.4" font-size="53.0" fill="#000">*</text>
<text x="1170.1" y="1982.9" font-size="53.0" fill="#000">*</text>
<text x="1205.2" y="1702.9" font-size="53.0" fill="#000">*</text>
<text x="1241.4" y="2048.9" font-size="53.0" fill="#000">*</text>
<text x="1301.6" y="2056.1" font-size="53.0" fill="#000">*</text>
<text x="1336.7" y="1708.0" font-size="53.0" fill="#000">*</text>
<text x="1370.4" y="2052.6" font-size="53.0" fill="#000">*</text>
<text x="1431.6" y="2056.1" font-size="53.0" fill="#000">*</text>
<text x="1466.7" y="1773.0" font-size="53.0" fill="#000">*</text>
<text x="1502.7" y="2065.6" font-size="53.0" fill="#000">*</text>
<text x="1562.5" y="2054.6" font-size="53.0" fill="#000">*</text>
<text x="1598.7" y="1839.4" font-size="53.0" fill="#000">*</text>
<text x="1632.3" y="2061.9" font-size="53.0" fill="#000">*</text>
<text transform="translate(1156.0,1236.0) scale(0.975,1)" font-size="104">72h</text>
<text transform="translate(565.4,1303.5) scale(0.805,1)" font-size="105">C</text>
<clipPath id="cp1"><rect x="217.3" y="2464.6" width="949.6" height="776.4"/></clipPath>
<g clip-path="url(#cp1)">
<polyline points="217.3,2579.3 520.5,2583.5 611.8,2590.9 732.4,2591.9 823.7,2608.7 915.0,2665.6 1035.6,2900.2 1126.9,2940.1" fill="none" stroke="#505050" stroke-width="2.1"/>
<polyline points="217.3,2579.3 520.5,2588.8 611.8,2590.9 732.4,2593.0 823.7,2599.3 915.0,2610.9 1035.6,2614.0 1126.9,2615.1" fill="none" stroke="#dc4a45" stroke-width="2.1"/>
<polyline points="217.3,2586.7 520.5,2604.5 611.8,2732.9 732.4,2738.1 823.7,2743.4 915.0,2786.5 1035.6,2934.9 1126.9,2962.7" fill="none" stroke="#2272c8" stroke-width="2.1"/>
<line x1="217.3" y1="2573.0" x2="217.3" y2="2585.6" stroke="#505050" stroke-width="2" />
<line x1="210.3" y1="2573.0" x2="224.3" y2="2573.0" stroke="#505050" stroke-width="2" />
<line x1="210.3" y1="2585.6" x2="224.3" y2="2585.6" stroke="#505050" stroke-width="2" />
<rect x="209.3" y="2571.3" width="16" height="16" fill="#505050"/>
<line x1="520.5" y1="2578.2" x2="520.5" y2="2588.8" stroke="#505050" stroke-width="2" />
<line x1="513.5" y1="2578.2" x2="527.5" y2="2578.2" stroke="#505050" stroke-width="2" />
<line x1="513.5" y1="2588.8" x2="527.5" y2="2588.8" stroke="#505050" stroke-width="2" />
<rect x="512.5" y="2575.5" width="16" height="16" fill="#505050"/>
<rect x="603.8" y="2582.9" width="16" height="16" fill="#505050"/>
<rect x="724.4" y="2583.9" width="16" height="16" fill="#505050"/>
<rect x="815.7" y="2600.7" width="16" height="16" fill="#505050"/>
<rect x="907.0" y="2657.6" width="16" height="16" fill="#505050"/>
<line x1="1035.6" y1="2894.9" x2="1035.6" y2="2905.4" stroke="#505050" stroke-width="2" />
<line x1="1028.6" y1="2894.9" x2="1042.6" y2="2894.9" stroke="#505050" stroke-width="2" />
<line x1="1028.6" y1="2905.4" x2="1042.6" y2="2905.4" stroke="#505050" stroke-width="2" />
<rect x="1027.6" y="2892.2" width="16" height="16" fill="#505050"/>
<line x1="1126.9" y1="2929.6" x2="1126.9" y2="2950.6" stroke="#505050" stroke-width="2" />
<line x1="1119.9" y1="2929.6" x2="1133.9" y2="2929.6" stroke="#505050" stroke-width="2" />
<line x1="1119.9" y1="2950.6" x2="1133.9" y2="2950.6" stroke="#505050" stroke-width="2" />
<rect x="1118.9" y="2932.1" width="16" height="16" fill="#505050"/>
<circle cx="217.3" cy="2579.3" r="8.3" fill="#dc4a45"/>
<circle cx="520.5" cy="2588.8" r="8.3" fill="#dc4a45"/>
<circle cx="611.8" cy="2590.9" r="8.3" fill="#dc4a45"/>
<circle cx="732.4" cy="2593.0" r="8.3" fill="#dc4a45"/>
<circle cx="823.7" cy="2599.3" r="8.3" fill="#dc4a45"/>
<circle cx="915.0" cy="2610.9" r="8.3" fill="#dc4a45"/>
<circle cx="1035.6" cy="2614.0" r="8.3" fill="#dc4a45"/>
<circle cx="1126.9" cy="2615.1" r="8.3" fill="#dc4a45"/>
<polygon points="217.3,2575.7 207.3,2593.7 227.3,2593.7" fill="#2272c8"/>
<polygon points="520.5,2593.5 510.5,2611.5 530.5,2611.5" fill="#2272c8"/>
<polygon points="611.8,2721.9 601.8,2739.9 621.8,2739.9" fill="#2272c8"/>
<polygon points="732.4,2727.1 722.4,2745.1 742.4,2745.1" fill="#2272c8"/>
<polygon points="823.7,2732.4 813.7,2750.4 833.7,2750.4" fill="#2272c8"/>
<line x1="915.0" y1="2776.0" x2="915.0" y2="2797.1" stroke="#2272c8" stroke-width="2" />
<line x1="908.0" y1="2776.0" x2="922.0" y2="2776.0" stroke="#2272c8" stroke-width="2" />
<line x1="908.0" y1="2797.1" x2="922.0" y2="2797.1" stroke="#2272c8" stroke-width="2" />
<polygon points="915.0,2775.5 905.0,2793.5 925.0,2793.5" fill="#2272c8"/>
<line x1="1035.6" y1="2924.3" x2="1035.6" y2="2945.4" stroke="#2272c8" stroke-width="2" />
<line x1="1028.6" y1="2924.3" x2="1042.6" y2="2924.3" stroke="#2272c8" stroke-width="2" />
<line x1="1028.6" y1="2945.4" x2="1042.6" y2="2945.4" stroke="#2272c8" stroke-width="2" />
<polygon points="1035.6,2923.9 1025.6,2941.9 1045.6,2941.9" fill="#2272c8"/>
<line x1="1126.9" y1="2952.2" x2="1126.9" y2="2973.3" stroke="#2272c8" stroke-width="2" />
<line x1="1119.9" y1="2952.2" x2="1133.9" y2="2952.2" stroke="#2272c8" stroke-width="2" />
<line x1="1119.9" y1="2973.3" x2="1133.9" y2="2973.3" stroke="#2272c8" stroke-width="2" />
<polygon points="1126.9,2951.7 1116.9,2969.7 1136.9,2969.7" fill="#2272c8"/>
</g>
<line x1="217.3" y1="2503.6" x2="217.3" y2="3242.0" stroke="#000" stroke-width="2.5" />
<line x1="216.3" y1="3241.0" x2="1136.9" y2="3241.0" stroke="#000" stroke-width="2.5" />
<line x1="202.3" y1="3241.0" x2="217.3" y2="3241.0" stroke="#000" stroke-width="2.5" />
<text x="192.8" y="3253.5" font-size="49" text-anchor="end" fill="#000" >0</text>
<line x1="209.3" y1="3188.4" x2="217.3" y2="3188.4" stroke="#000" stroke-width="2.5" />
<line x1="202.3" y1="3135.8" x2="217.3" y2="3135.8" stroke="#000" stroke-width="2.5" />
<text x="192.8" y="3148.3" font-size="49" text-anchor="end" fill="#000" >1</text>
<line x1="209.3" y1="3083.2" x2="217.3" y2="3083.2" stroke="#000" stroke-width="2.5" />
<line x1="202.3" y1="3030.6" x2="217.3" y2="3030.6" stroke="#000" stroke-width="2.5" />
<text x="192.8" y="3043.1" font-size="49" text-anchor="end" fill="#000" >2</text>
<line x1="209.3" y1="2978.0" x2="217.3" y2="2978.0" stroke="#000" stroke-width="2.5" />
<line x1="202.3" y1="2925.4" x2="217.3" y2="2925.4" stroke="#000" stroke-width="2.5" />
<text x="192.8" y="2937.9" font-size="49" text-anchor="end" fill="#000" >3</text>
<line x1="209.3" y1="2872.8" x2="217.3" y2="2872.8" stroke="#000" stroke-width="2.5" />
<line x1="202.3" y1="2820.2" x2="217.3" y2="2820.2" stroke="#000" stroke-width="2.5" />
<text x="192.8" y="2832.7" font-size="49" text-anchor="end" fill="#000" >4</text>
<line x1="209.3" y1="2767.6" x2="217.3" y2="2767.6" stroke="#000" stroke-width="2.5" />
<line x1="202.3" y1="2715.0" x2="217.3" y2="2715.0" stroke="#000" stroke-width="2.5" />
<text x="192.8" y="2727.5" font-size="49" text-anchor="end" fill="#000" >5</text>
<line x1="209.3" y1="2662.4" x2="217.3" y2="2662.4" stroke="#000" stroke-width="2.5" />
<line x1="202.3" y1="2609.8" x2="217.3" y2="2609.8" stroke="#000" stroke-width="2.5" />
<text x="192.8" y="2622.3" font-size="49" text-anchor="end" fill="#000" >6</text>
<line x1="209.3" y1="2557.2" x2="217.3" y2="2557.2" stroke="#000" stroke-width="2.5" />
<line x1="202.3" y1="2504.6" x2="217.3" y2="2504.6" stroke="#000" stroke-width="2.5" />
<text x="192.8" y="2517.1" font-size="49" text-anchor="end" fill="#000" >7</text>
<line x1="520.5" y1="3241.0" x2="520.5" y2="3254.0" stroke="#000" stroke-width="2.5" />
<text x="520.5" y="3302.0" font-size="49" text-anchor="middle" fill="#000" >1</text>
<line x1="611.8" y1="3241.0" x2="611.8" y2="3254.0" stroke="#000" stroke-width="2.5" />
<text x="611.8" y="3302.0" font-size="49" text-anchor="middle" fill="#000" >2</text>
<line x1="732.4" y1="3241.0" x2="732.4" y2="3254.0" stroke="#000" stroke-width="2.5" />
<text x="732.4" y="3302.0" font-size="49" text-anchor="middle" fill="#000" >5</text>
<line x1="823.7" y1="3241.0" x2="823.7" y2="3254.0" stroke="#000" stroke-width="2.5" />
<text x="823.7" y="3302.0" font-size="49" text-anchor="middle" fill="#000" >10</text>
<line x1="915.0" y1="3241.0" x2="915.0" y2="3254.0" stroke="#000" stroke-width="2.5" />
<text x="915.0" y="3302.0" font-size="49" text-anchor="middle" fill="#000" >20</text>
<line x1="1035.6" y1="3241.0" x2="1035.6" y2="3254.0" stroke="#000" stroke-width="2.5" />
<text x="1035.6" y="3302.0" font-size="49" text-anchor="middle" fill="#000" >50</text>
<line x1="1126.9" y1="3241.0" x2="1126.9" y2="3254.0" stroke="#000" stroke-width="2.5" />
<text x="1126.4" y="3302.0" font-size="49" text-anchor="middle" fill="#000" >100</text>
<text x="709.0" y="3361.0" font-size="44" text-anchor="middle" fill="#000" textLength="174" lengthAdjust="spacingAndGlyphs">[µg/mL]</text>
<text transform="translate(140.8,2872.8) rotate(-90)" font-size="47.5" text-anchor="middle">log (CFU)</text>
<text x="509.7" y="2583.6" font-size="53.0" fill="#000">*</text>
<text x="509.7" y="2623.6" font-size="53.0" fill="#1515c0">*</text>
<text x="509.7" y="2652.4" font-size="53.0" fill="#1515c0">*</text>
<text x="589.7" y="2593.3" font-size="53.0" fill="#000">*</text>
<text x="617.7" y="2591.0" font-size="53.0" fill="#e02020">*</text>
<text x="601.7" y="2731.6" font-size="53.0" fill="#1515c0">*</text>
<text x="708.7" y="2593.3" font-size="53.0" fill="#000">*</text>
<text x="736.5" y="2592.3" font-size="53.0" fill="#e02020">*</text>
<text x="721.3" y="2739.6" font-size="53.0" fill="#1515c0">*</text>
<text x="813.3" y="2603.3" font-size="53.0" fill="#e02020">*</text>
<text x="814.0" y="2658.0" font-size="53.0" fill="#000">*</text>
<text x="813.3" y="2746.8" font-size="53.0" fill="#1515c0">*</text>
<text x="906.3" y="2613.1" font-size="53.0" fill="#e02020">*</text>
<text x="904.5" y="2666.0" font-size="53.0" fill="#000">*</text>
<text x="906.3" y="2787.2" font-size="53.0" fill="#1515c0">*</text>
<text x="1025.7" y="2616.3" font-size="53.0" fill="#e02020">*</text>
<text x="1026.7" y="2902.8" font-size="53.0" fill="#000">*</text>
<text x="1004.1" y="2960.3" font-size="53.0" fill="#1515c0">*</text>
<text x="1115.1" y="2618.0" font-size="53.0" fill="#e02020">*</text>
<text x="1116.9" y="2939.3" font-size="53.0" fill="#000">*</text>
<text x="1115.1" y="3015.3" font-size="53.0" fill="#1515c0">*</text>
<text transform="translate(625.5,2329.8) scale(0.975,1)" font-size="104">24h</text>
<text transform="translate(19.6,2494.4) scale(0.925,1)" font-size="105">D</text>
<line x1="249.0" y1="2417.0" x2="323.0" y2="2417.0" stroke="#505050" stroke-width="2" />
<rect x="278" y="2409" width="16" height="16" fill="#505050"/>
<text x="335.0" y="2427.5" font-size="39" text-anchor="start" fill="#000" textLength="170" lengthAdjust="spacing">CSA-131</text>
<line x1="249.0" y1="2468.0" x2="323.0" y2="2468.0" stroke="#dc4a45" stroke-width="2" />
<circle cx="286" cy="2468" r="8.3" fill="#dc4a45"/>
<text x="335.0" y="2478.5" font-size="39" text-anchor="start" fill="#000" textLength="80" lengthAdjust="spacing">SXT</text>
<line x1="249.0" y1="2519.0" x2="323.0" y2="2519.0" stroke="#2272c8" stroke-width="2" />
<polygon points="286,2508 276,2526 296,2526" fill="#2272c8"/>
<text x="335.0" y="2529.5" font-size="39" text-anchor="start" fill="#000" textLength="299" lengthAdjust="spacing">CSA-131 + SXT</text>
<clipPath id="cp2"><rect x="1344.2" y="2465.0" width="950.5" height="778.5"/></clipPath>
<g clip-path="url(#cp2)">
<polyline points="1344.2,2593.6 1647.7,2601.0 1739.1,2608.4 1859.8,2610.5 1951.2,2682.2 2042.6,2958.7 2163.3,3058.9 2254.7,3171.8" fill="none" stroke="#505050" stroke-width="2.1"/>
<polyline points="1344.2,2599.9 1647.7,2602.1 1739.1,2609.4 1859.8,2618.9 1951.2,2642.2 2042.6,2656.9 2163.3,2789.8 2254.7,2881.6" fill="none" stroke="#dc4a45" stroke-width="2.1"/>
<polyline points="1344.2,2599.9 1647.7,2601.0 1739.1,2609.4 1859.8,2618.9 1951.2,2692.8 2042.6,2975.5 2163.3,3122.7 2254.7,3241.4" fill="none" stroke="#2272c8" stroke-width="2.1"/>
<line x1="1344.2" y1="2588.3" x2="1344.2" y2="2598.9" stroke="#505050" stroke-width="2" />
<line x1="1337.2" y1="2588.3" x2="1351.2" y2="2588.3" stroke="#505050" stroke-width="2" />
<line x1="1337.2" y1="2598.9" x2="1351.2" y2="2598.9" stroke="#505050" stroke-width="2" />
<rect x="1336.2" y="2585.6" width="16" height="16" fill="#505050"/>
<rect x="1639.7" y="2593.0" width="16" height="16" fill="#505050"/>
<line x1="1739.1" y1="2597.8" x2="1739.1" y2="2618.9" stroke="#505050" stroke-width="2" />
<line x1="1732.1" y1="2597.8" x2="1746.1" y2="2597.8" stroke="#505050" stroke-width="2" />
<line x1="1732.1" y1="2618.9" x2="1746.1" y2="2618.9" stroke="#505050" stroke-width="2" />
<rect x="1731.1" y="2600.4" width="16" height="16" fill="#505050"/>
<line x1="1859.8" y1="2605.2" x2="1859.8" y2="2615.8" stroke="#505050" stroke-width="2" />
<line x1="1852.8" y1="2605.2" x2="1866.8" y2="2605.2" stroke="#505050" stroke-width="2" />
<line x1="1852.8" y1="2615.8" x2="1866.8" y2="2615.8" stroke="#505050" stroke-width="2" />
<rect x="1851.8" y="2602.5" width="16" height="16" fill="#505050"/>
<line x1="1951.2" y1="2669.6" x2="1951.2" y2="2694.9" stroke="#505050" stroke-width="2" />
<line x1="1944.2" y1="2669.6" x2="1958.2" y2="2669.6" stroke="#505050" stroke-width="2" />
<line x1="1944.2" y1="2694.9" x2="1958.2" y2="2694.9" stroke="#505050" stroke-width="2" />
<rect x="1943.2" y="2674.2" width="16" height="16" fill="#505050"/>
<rect x="2034.6" y="2950.7" width="16" height="16" fill="#505050"/>
<line x1="2163.3" y1="3053.6" x2="2163.3" y2="3064.2" stroke="#505050" stroke-width="2" />
<line x1="2156.3" y1="3053.6" x2="2170.3" y2="3053.6" stroke="#505050" stroke-width="2" />
<line x1="2156.3" y1="3064.2" x2="2170.3" y2="3064.2" stroke="#505050" stroke-width="2" />
<rect x="2155.3" y="3050.9" width="16" height="16" fill="#505050"/>
<line x1="2254.7" y1="3166.5" x2="2254.7" y2="3177.0" stroke="#505050" stroke-width="2" />
<line x1="2247.7" y1="3166.5" x2="2261.7" y2="3166.5" stroke="#505050" stroke-width="2" />
<line x1="2247.7" y1="3177.0" x2="2261.7" y2="3177.0" stroke="#505050" stroke-width="2" />
<rect x="2246.7" y="3163.8" width="16" height="16" fill="#505050"/>
<circle cx="1344.2" cy="2599.9" r="8.3" fill="#dc4a45"/>
<circle cx="1647.7" cy="2602.1" r="8.3" fill="#dc4a45"/>
<circle cx="1739.1" cy="2609.4" r="8.3" fill="#dc4a45"/>
<circle cx="1859.8" cy="2618.9" r="8.3" fill="#dc4a45"/>
<line x1="1951.2" y1="2631.6" x2="1951.2" y2="2652.7" stroke="#dc4a45" stroke-width="2" />
<line x1="1944.2" y1="2631.6" x2="1958.2" y2="2631.6" stroke="#dc4a45" stroke-width="2" />
<line x1="1944.2" y1="2652.7" x2="1958.2" y2="2652.7" stroke="#dc4a45" stroke-width="2" />
<circle cx="1951.2" cy="2642.2" r="8.3" fill="#dc4a45"/>
<line x1="2042.6" y1="2646.4" x2="2042.6" y2="2667.5" stroke="#dc4a45" stroke-width="2" />
<line x1="2035.6" y1="2646.4" x2="2049.6" y2="2646.4" stroke="#dc4a45" stroke-width="2" />
<line x1="2035.6" y1="2667.5" x2="2049.6" y2="2667.5" stroke="#dc4a45" stroke-width="2" />
<circle cx="2042.6" cy="2656.9" r="8.3" fill="#dc4a45"/>
<line x1="2163.3" y1="2784.6" x2="2163.3" y2="2795.1" stroke="#dc4a45" stroke-width="2" />
<line x1="2156.3" y1="2784.6" x2="2170.3" y2="2784.6" stroke="#dc4a45" stroke-width="2" />
<line x1="2156.3" y1="2795.1" x2="2170.3" y2="2795.1" stroke="#dc4a45" stroke-width="2" />
<circle cx="2163.3" cy="2789.8" r="8.3" fill="#dc4a45"/>
<line x1="2254.7" y1="2874.2" x2="2254.7" y2="2889.0" stroke="#dc4a45" stroke-width="2" />
<line x1="2247.7" y1="2874.2" x2="2261.7" y2="2874.2" stroke="#dc4a45" stroke-width="2" />
<line x1="2247.7" y1="2889.0" x2="2261.7" y2="2889.0" stroke="#dc4a45" stroke-width="2" />
<circle cx="2254.7" cy="2881.6" r="8.3" fill="#dc4a45"/>
<polygon points="1344.2,2588.9 1334.2,2606.9 1354.2,2606.9" fill="#2272c8"/>
<polygon points="1647.7,2590.0 1637.7,2608.0 1657.7,2608.0" fill="#2272c8"/>
<polygon points="1739.1,2598.4 1729.1,2616.4 1749.1,2616.4" fill="#2272c8"/>
<polygon points="1859.8,2607.9 1849.8,2625.9 1869.8,2625.9" fill="#2272c8"/>
<line x1="1951.2" y1="2682.2" x2="1951.2" y2="2703.3" stroke="#2272c8" stroke-width="2" />
<line x1="1944.2" y1="2682.2" x2="1958.2" y2="2682.2" stroke="#2272c8" stroke-width="2" />
<line x1="1944.2" y1="2703.3" x2="1958.2" y2="2703.3" stroke="#2272c8" stroke-width="2" />
<polygon points="1951.2,2681.8 1941.2,2699.8 1961.2,2699.8" fill="#2272c8"/>
<line x1="2042.6" y1="2970.3" x2="2042.6" y2="2980.8" stroke="#2272c8" stroke-width="2" />
<line x1="2035.6" y1="2970.3" x2="2049.6" y2="2970.3" stroke="#2272c8" stroke-width="2" />
<line x1="2035.6" y1="2980.8" x2="2049.6" y2="2980.8" stroke="#2272c8" stroke-width="2" />
<polygon points="2042.6,2964.5 2032.6,2982.5 2052.6,2982.5" fill="#2272c8"/>
<polygon points="2163.3,3111.7 2153.3,3129.7 2173.3,3129.7" fill="#2272c8"/>
<polygon points="2254.7,3230.4 2244.7,3248.4 2264.7,3248.4" fill="#2272c8"/>
</g>
<line x1="1344.2" y1="2504.0" x2="1344.2" y2="3244.5" stroke="#000" stroke-width="2.5" />
<line x1="1343.2" y1="3243.5" x2="2264.7" y2="3243.5" stroke="#000" stroke-width="2.5" />
<line x1="1329.2" y1="3243.5" x2="1344.2" y2="3243.5" stroke="#000" stroke-width="2.5" />
<text x="1319.7" y="3256.0" font-size="49" text-anchor="end" fill="#000" >0</text>
<line x1="1336.2" y1="3190.8" x2="1344.2" y2="3190.8" stroke="#000" stroke-width="2.5" />
<line x1="1329.2" y1="3138.0" x2="1344.2" y2="3138.0" stroke="#000" stroke-width="2.5" />
<text x="1319.7" y="3150.5" font-size="49" text-anchor="end" fill="#000" >1</text>
<line x1="1336.2" y1="3085.2" x2="1344.2" y2="3085.2" stroke="#000" stroke-width="2.5" />
<line x1="1329.2" y1="3032.5" x2="1344.2" y2="3032.5" stroke="#000" stroke-width="2.5" />
<text x="1319.7" y="3045.0" font-size="49" text-anchor="end" fill="#000" >2</text>
<line x1="1336.2" y1="2979.8" x2="1344.2" y2="2979.8" stroke="#000" stroke-width="2.5" />
<line x1="1329.2" y1="2927.0" x2="1344.2" y2="2927.0" stroke="#000" stroke-width="2.5" />
<text x="1319.7" y="2939.5" font-size="49" text-anchor="end" fill="#000" >3</text>
<line x1="1336.2" y1="2874.2" x2="1344.2" y2="2874.2" stroke="#000" stroke-width="2.5" />
<line x1="1329.2" y1="2821.5" x2="1344.2" y2="2821.5" stroke="#000" stroke-width="2.5" />
<text x="1319.7" y="2834.0" font-size="49" text-anchor="end" fill="#000" >4</text>
<line x1="1336.2" y1="2768.8" x2="1344.2" y2="2768.8" stroke="#000" stroke-width="2.5" />
<line x1="1329.2" y1="2716.0" x2="1344.2" y2="2716.0" stroke="#000" stroke-width="2.5" />
<text x="1319.7" y="2728.5" font-size="49" text-anchor="end" fill="#000" >5</text>
<line x1="1336.2" y1="2663.2" x2="1344.2" y2="2663.2" stroke="#000" stroke-width="2.5" />
<line x1="1329.2" y1="2610.5" x2="1344.2" y2="2610.5" stroke="#000" stroke-width="2.5" />
<text x="1319.7" y="2623.0" font-size="49" text-anchor="end" fill="#000" >6</text>
<line x1="1336.2" y1="2557.8" x2="1344.2" y2="2557.8" stroke="#000" stroke-width="2.5" />
<line x1="1329.2" y1="2505.0" x2="1344.2" y2="2505.0" stroke="#000" stroke-width="2.5" />
<text x="1319.7" y="2517.5" font-size="49" text-anchor="end" fill="#000" >7</text>
<line x1="1647.7" y1="3243.5" x2="1647.7" y2="3256.5" stroke="#000" stroke-width="2.5" />
<text x="1647.7" y="3304.0" font-size="49" text-anchor="middle" fill="#000" >1</text>
<line x1="1739.1" y1="3243.5" x2="1739.1" y2="3256.5" stroke="#000" stroke-width="2.5" />
<text x="1739.1" y="3304.0" font-size="49" text-anchor="middle" fill="#000" >2</text>
<line x1="1859.8" y1="3243.5" x2="1859.8" y2="3256.5" stroke="#000" stroke-width="2.5" />
<text x="1859.8" y="3304.0" font-size="49" text-anchor="middle" fill="#000" >5</text>
<line x1="1951.2" y1="3243.5" x2="1951.2" y2="3256.5" stroke="#000" stroke-width="2.5" />
<text x="1951.2" y="3304.0" font-size="49" text-anchor="middle" fill="#000" >10</text>
<line x1="2042.6" y1="3243.5" x2="2042.6" y2="3256.5" stroke="#000" stroke-width="2.5" />
<text x="2042.6" y="3304.0" font-size="49" text-anchor="middle" fill="#000" >20</text>
<line x1="2163.3" y1="3243.5" x2="2163.3" y2="3256.5" stroke="#000" stroke-width="2.5" />
<text x="2163.3" y="3304.0" font-size="49" text-anchor="middle" fill="#000" >50</text>
<line x1="2254.7" y1="3243.5" x2="2254.7" y2="3256.5" stroke="#000" stroke-width="2.5" />
<text x="2254.2" y="3304.0" font-size="49" text-anchor="middle" fill="#000" >100</text>
<text x="1836.0" y="3362.5" font-size="44" text-anchor="middle" fill="#000" textLength="174" lengthAdjust="spacingAndGlyphs">[µg/mL]</text>
<text transform="translate(1267.7,2874.2) rotate(-90)" font-size="47.5" text-anchor="middle">log (CFU)</text>
<text x="1637.3" y="2625.3" font-size="53.0" fill="#1515c0">*</text>
<text x="1849.7" y="2610.6" font-size="53.0" fill="#000">*</text>
<text x="1832.3" y="2669.8" font-size="53.0" fill="#1515c0">*</text>
<text x="1857.2" y="2669.8" font-size="53.0" fill="#e02020">*</text>
<text x="1941.1" y="2643.2" font-size="53.0" fill="#e02020">*</text>
<text x="1967.7" y="2708.1" font-size="53.0" fill="#000">*</text>
<text x="1937.2" y="2748.0" font-size="53.0" fill="#1515c0">*</text>
<text x="2034.0" y="2658.3" font-size="53.0" fill="#e02020">*</text>
<text x="2042.0" y="2962.8" font-size="53.0" fill="#000">*</text>
<text x="2030.7" y="3028.5" font-size="53.0" fill="#1515c0">*</text>
<text x="2156.3" y="2793.4" font-size="53.0" fill="#e02020">*</text>
<text x="2154.3" y="3061.6" font-size="53.0" fill="#000">*</text>
<text x="2154.3" y="3125.4" font-size="53.0" fill="#1515c0">*</text>
<text x="2246.0" y="2880.3" font-size="53.0" fill="#e02020">*</text>
<text x="2244.0" y="3176.4" font-size="53.0" fill="#000">*</text>
<text transform="translate(1764.0,2327.8) scale(0.975,1)" font-size="104">48h</text>
<text transform="translate(1167.7,2491.8) scale(0.726,1)" font-size="105">E</text>
<clipPath id="cp3"><rect x="757.3" y="3517.3" width="950.2" height="776.4"/></clipPath>
<g clip-path="url(#cp3)">
<polyline points="757.3,3727.7 1060.7,3738.2 1152.0,3804.5 1272.8,3889.7 1364.1,4019.1 1455.4,4166.4 1576.2,4200.1 1667.5,4290.5" fill="none" stroke="#505050" stroke-width="2.1"/>
<polyline points="757.3,3713.0 1060.7,3727.7 1152.0,3769.8 1272.8,3783.0 1364.1,3961.8 1455.4,4005.5 1576.2,4167.5 1667.5,4169.6" fill="none" stroke="#dc4a45" stroke-width="2.1"/>
<polyline points="757.3,3731.9 1060.7,3764.5 1152.0,3915.0 1272.8,3992.3 1364.1,4165.4 1455.4,4166.4 1576.2,4167.5 1667.5,4290.5" fill="none" stroke="#2272c8" stroke-width="2.1"/>
<line x1="757.3" y1="3685.6" x2="757.3" y2="3769.8" stroke="#505050" stroke-width="2" />
<line x1="750.3" y1="3685.6" x2="764.3" y2="3685.6" stroke="#505050" stroke-width="2" />
<line x1="750.3" y1="3769.8" x2="764.3" y2="3769.8" stroke="#505050" stroke-width="2" />
<rect x="749.3" y="3719.7" width="16" height="16" fill="#505050"/>
<line x1="1060.7" y1="3697.2" x2="1060.7" y2="3779.3" stroke="#505050" stroke-width="2" />
<line x1="1053.7" y1="3697.2" x2="1067.7" y2="3697.2" stroke="#505050" stroke-width="2" />
<line x1="1053.7" y1="3779.3" x2="1067.7" y2="3779.3" stroke="#505050" stroke-width="2" />
<rect x="1052.7" y="3730.2" width="16" height="16" fill="#505050"/>
<line x1="1152.0" y1="3766.6" x2="1152.0" y2="3842.4" stroke="#505050" stroke-width="2" />
<line x1="1145.0" y1="3766.6" x2="1159.0" y2="3766.6" stroke="#505050" stroke-width="2" />
<line x1="1145.0" y1="3842.4" x2="1159.0" y2="3842.4" stroke="#505050" stroke-width="2" />
<rect x="1144.0" y="3796.5" width="16" height="16" fill="#505050"/>
<line x1="1272.8" y1="3848.7" x2="1272.8" y2="3930.8" stroke="#505050" stroke-width="2" />
<line x1="1265.8" y1="3848.7" x2="1279.8" y2="3848.7" stroke="#505050" stroke-width="2" />
<line x1="1265.8" y1="3930.8" x2="1279.8" y2="3930.8" stroke="#505050" stroke-width="2" />
<rect x="1264.8" y="3881.7" width="16" height="16" fill="#505050"/>
<line x1="1364.1" y1="3993.9" x2="1364.1" y2="4044.4" stroke="#505050" stroke-width="2" />
<line x1="1357.1" y1="3993.9" x2="1371.1" y2="3993.9" stroke="#505050" stroke-width="2" />
<line x1="1357.1" y1="4044.4" x2="1371.1" y2="4044.4" stroke="#505050" stroke-width="2" />
<rect x="1356.1" y="4011.1" width="16" height="16" fill="#505050"/>
<rect x="1447.4" y="4158.4" width="16" height="16" fill="#505050"/>
<rect x="1568.2" y="4192.1" width="16" height="16" fill="#505050"/>
<rect x="1659.5" y="4282.5" width="16" height="16" fill="#505050"/>
<line x1="757.3" y1="3702.5" x2="757.3" y2="3723.5" stroke="#dc4a45" stroke-width="2" />
<line x1="750.3" y1="3702.5" x2="764.3" y2="3702.5" stroke="#dc4a45" stroke-width="2" />
<line x1="750.3" y1="3723.5" x2="764.3" y2="3723.5" stroke="#dc4a45" stroke-width="2" />
<circle cx="757.3" cy="3713.0" r="8.3" fill="#dc4a45"/>
<line x1="1060.7" y1="3719.3" x2="1060.7" y2="3736.1" stroke="#dc4a45" stroke-width="2" />
<line x1="1053.7" y1="3719.3" x2="1067.7" y2="3719.3" stroke="#dc4a45" stroke-width="2" />
<line x1="1053.7" y1="3736.1" x2="1067.7" y2="3736.1" stroke="#dc4a45" stroke-width="2" />
<circle cx="1060.7" cy="3727.7" r="8.3" fill="#dc4a45"/>
<line x1="1152.0" y1="3759.3" x2="1152.0" y2="3780.3" stroke="#dc4a45" stroke-width="2" />
<line x1="1145.0" y1="3759.3" x2="1159.0" y2="3759.3" stroke="#dc4a45" stroke-width="2" />
<line x1="1145.0" y1="3780.3" x2="1159.0" y2="3780.3" stroke="#dc4a45" stroke-width="2" />
<circle cx="1152.0" cy="3769.8" r="8.3" fill="#dc4a45"/>
<line x1="1272.8" y1="3772.4" x2="1272.8" y2="3793.5" stroke="#dc4a45" stroke-width="2" />
<line x1="1265.8" y1="3772.4" x2="1279.8" y2="3772.4" stroke="#dc4a45" stroke-width="2" />
<line x1="1265.8" y1="3793.5" x2="1279.8" y2="3793.5" stroke="#dc4a45" stroke-width="2" />
<circle cx="1272.8" cy="3783.0" r="8.3" fill="#dc4a45"/>
<circle cx="1364.1" cy="3961.8" r="8.3" fill="#dc4a45"/>
<line x1="1455.4" y1="4000.2" x2="1455.4" y2="4010.7" stroke="#dc4a45" stroke-width="2" />
<line x1="1448.4" y1="4000.2" x2="1462.4" y2="4000.2" stroke="#dc4a45" stroke-width="2" />
<line x1="1448.4" y1="4010.7" x2="1462.4" y2="4010.7" stroke="#dc4a45" stroke-width="2" />
<circle cx="1455.4" cy="4005.5" r="8.3" fill="#dc4a45"/>
<circle cx="1576.2" cy="4167.5" r="8.3" fill="#dc4a45"/>
<circle cx="1667.5" cy="4169.6" r="8.3" fill="#dc4a45"/>
<line x1="757.3" y1="3723.5" x2="757.3" y2="3740.3" stroke="#2272c8" stroke-width="2" />
<line x1="750.3" y1="3723.5" x2="764.3" y2="3723.5" stroke="#2272c8" stroke-width="2" />
<line x1="750.3" y1="3740.3" x2="764.3" y2="3740.3" stroke="#2272c8" stroke-width="2" />
<polygon points="757.3,3720.9 747.3,3738.9 767.3,3738.9" fill="#2272c8"/>
<line x1="1060.7" y1="3754.0" x2="1060.7" y2="3775.1" stroke="#2272c8" stroke-width="2" />
<line x1="1053.7" y1="3754.0" x2="1067.7" y2="3754.0" stroke="#2272c8" stroke-width="2" />
<line x1="1053.7" y1="3775.1" x2="1067.7" y2="3775.1" stroke="#2272c8" stroke-width="2" />
<polygon points="1060.7,3753.5 1050.7,3771.5 1070.7,3771.5" fill="#2272c8"/>
<line x1="1152.0" y1="3886.6" x2="1152.0" y2="3943.4" stroke="#2272c8" stroke-width="2" />
<line x1="1145.0" y1="3886.6" x2="1159.0" y2="3886.6" stroke="#2272c8" stroke-width="2" />
<line x1="1145.0" y1="3943.4" x2="1159.0" y2="3943.4" stroke="#2272c8" stroke-width="2" />
<polygon points="1152.0,3904.0 1142.0,3922.0 1162.0,3922.0" fill="#2272c8"/>
<line x1="1272.8" y1="3979.7" x2="1272.8" y2="4004.9" stroke="#2272c8" stroke-width="2" />
<line x1="1265.8" y1="3979.7" x2="1279.8" y2="3979.7" stroke="#2272c8" stroke-width="2" />
<line x1="1265.8" y1="4004.9" x2="1279.8" y2="4004.9" stroke="#2272c8" stroke-width="2" />
<polygon points="1272.8,3981.3 1262.8,3999.3 1282.8,3999.3" fill="#2272c8"/>
<polygon points="1364.1,4154.4 1354.1,4172.4 1374.1,4172.4" fill="#2272c8"/>
<polygon points="1455.4,4155.4 1445.4,4173.4 1465.4,4173.4" fill="#2272c8"/>
<polygon points="1576.2,4156.5 1566.2,4174.5 1586.2,4174.5" fill="#2272c8"/>
<polygon points="1667.5,4279.5 1657.5,4297.5 1677.5,4297.5" fill="#2272c8"/>
</g>
<line x1="757.3" y1="3556.3" x2="757.3" y2="4294.7" stroke="#000" stroke-width="2.5" />
<line x1="756.3" y1="4293.7" x2="1677.5" y2="4293.7" stroke="#000" stroke-width="2.5" />
<line x1="742.3" y1="4293.7" x2="757.3" y2="4293.7" stroke="#000" stroke-width="2.5" />
<text x="732.8" y="4306.2" font-size="49" text-anchor="end" fill="#000" >0</text>
<line x1="749.3" y1="4241.1" x2="757.3" y2="4241.1" stroke="#000" stroke-width="2.5" />
<line x1="742.3" y1="4188.5" x2="757.3" y2="4188.5" stroke="#000" stroke-width="2.5" />
<text x="732.8" y="4201.0" font-size="49" text-anchor="end" fill="#000" >1</text>
<line x1="749.3" y1="4135.9" x2="757.3" y2="4135.9" stroke="#000" stroke-width="2.5" />
<line x1="742.3" y1="4083.3" x2="757.3" y2="4083.3" stroke="#000" stroke-width="2.5" />
<text x="732.8" y="4095.8" font-size="49" text-anchor="end" fill="#000" >2</text>
<line x1="749.3" y1="4030.7" x2="757.3" y2="4030.7" stroke="#000" stroke-width="2.5" />
<line x1="742.3" y1="3978.1" x2="757.3" y2="3978.1" stroke="#000" stroke-width="2.5" />
<text x="732.8" y="3990.6" font-size="49" text-anchor="end" fill="#000" >3</text>
<line x1="749.3" y1="3925.5" x2="757.3" y2="3925.5" stroke="#000" stroke-width="2.5" />
<line x1="742.3" y1="3872.9" x2="757.3" y2="3872.9" stroke="#000" stroke-width="2.5" />
<text x="732.8" y="3885.4" font-size="49" text-anchor="end" fill="#000" >4</text>
<line x1="749.3" y1="3820.3" x2="757.3" y2="3820.3" stroke="#000" stroke-width="2.5" />
<line x1="742.3" y1="3767.7" x2="757.3" y2="3767.7" stroke="#000" stroke-width="2.5" />
<text x="732.8" y="3780.2" font-size="49" text-anchor="end" fill="#000" >5</text>
<line x1="749.3" y1="3715.1" x2="757.3" y2="3715.1" stroke="#000" stroke-width="2.5" />
<line x1="742.3" y1="3662.5" x2="757.3" y2="3662.5" stroke="#000" stroke-width="2.5" />
<text x="732.8" y="3675.0" font-size="49" text-anchor="end" fill="#000" >6</text>
<line x1="749.3" y1="3609.9" x2="757.3" y2="3609.9" stroke="#000" stroke-width="2.5" />
<line x1="742.3" y1="3557.3" x2="757.3" y2="3557.3" stroke="#000" stroke-width="2.5" />
<text x="732.8" y="3569.8" font-size="49" text-anchor="end" fill="#000" >7</text>
<line x1="1060.7" y1="4293.7" x2="1060.7" y2="4306.7" stroke="#000" stroke-width="2.5" />
<text x="1060.7" y="4354.7" font-size="49" text-anchor="middle" fill="#000" >1</text>
<line x1="1152.0" y1="4293.7" x2="1152.0" y2="4306.7" stroke="#000" stroke-width="2.5" />
<text x="1152.0" y="4354.7" font-size="49" text-anchor="middle" fill="#000" >2</text>
<line x1="1272.8" y1="4293.7" x2="1272.8" y2="4306.7" stroke="#000" stroke-width="2.5" />
<text x="1272.8" y="4354.7" font-size="49" text-anchor="middle" fill="#000" >5</text>
<line x1="1364.1" y1="4293.7" x2="1364.1" y2="4306.7" stroke="#000" stroke-width="2.5" />
<text x="1364.1" y="4354.7" font-size="49" text-anchor="middle" fill="#000" >10</text>
<line x1="1455.4" y1="4293.7" x2="1455.4" y2="4306.7" stroke="#000" stroke-width="2.5" />
<text x="1455.4" y="4354.7" font-size="49" text-anchor="middle" fill="#000" >20</text>
<line x1="1576.2" y1="4293.7" x2="1576.2" y2="4306.7" stroke="#000" stroke-width="2.5" />
<text x="1576.2" y="4354.7" font-size="49" text-anchor="middle" fill="#000" >50</text>
<line x1="1667.5" y1="4293.7" x2="1667.5" y2="4306.7" stroke="#000" stroke-width="2.5" />
<text x="1667.0" y="4354.7" font-size="49" text-anchor="middle" fill="#000" >100</text>
<text x="1248.0" y="4412.2" font-size="44" text-anchor="middle" fill="#000" textLength="174" lengthAdjust="spacingAndGlyphs">[µg/mL]</text>
<text transform="translate(680.8,3925.5) rotate(-90)" font-size="47.5" text-anchor="middle">log (CFU)</text>
<text x="1049.7" y="3819.3" font-size="53.0" fill="#1515c0">*</text>
<text x="1142.1" y="3768.2" font-size="53.0" fill="#e02020">*</text>
<text x="1143.9" y="3893.5" font-size="53.0" fill="#1515c0">*</text>
<text x="1263.0" y="3779.3" font-size="53.0" fill="#e02020">*</text>
<text x="1262.1" y="3855.6" font-size="53.0" fill="#555">*</text>
<text x="1261.9" y="3988.0" font-size="53.0" fill="#1515c0">*</text>
<text x="1358.0" y="3966.2" font-size="53.0" fill="#e02020">*</text>
<text x="1353.9" y="4012.3" font-size="53.0" fill="#555">*</text>
<text x="1364.9" y="4168.3" font-size="53.0" fill="#1515c0">*</text>
<text x="1443.1" y="4008.2" font-size="53.0" fill="#e02020">*</text>
<text x="1444.3" y="4167.1" font-size="53.0" fill="#555">*</text>
<text x="1465.9" y="4179.3" font-size="53.0" fill="#1515c0">*</text>
<text x="1537.2" y="4179.3" font-size="53.0" fill="#1515c0">*</text>
<text x="1575.9" y="4174.4" font-size="53.0" fill="#e02020">*</text>
<text x="1562.5" y="4248.6" font-size="53.0" fill="#555">*</text>
<text x="1649.3" y="4173.2" font-size="53.0" fill="#e02020">*</text>
<text transform="translate(1156.0,3473.0) scale(0.975,1)" font-size="104">72h</text>
<text transform="translate(581.3,3545.6) scale(0.778,1)" font-size="105">F</text>
</svg>
</body></html>
